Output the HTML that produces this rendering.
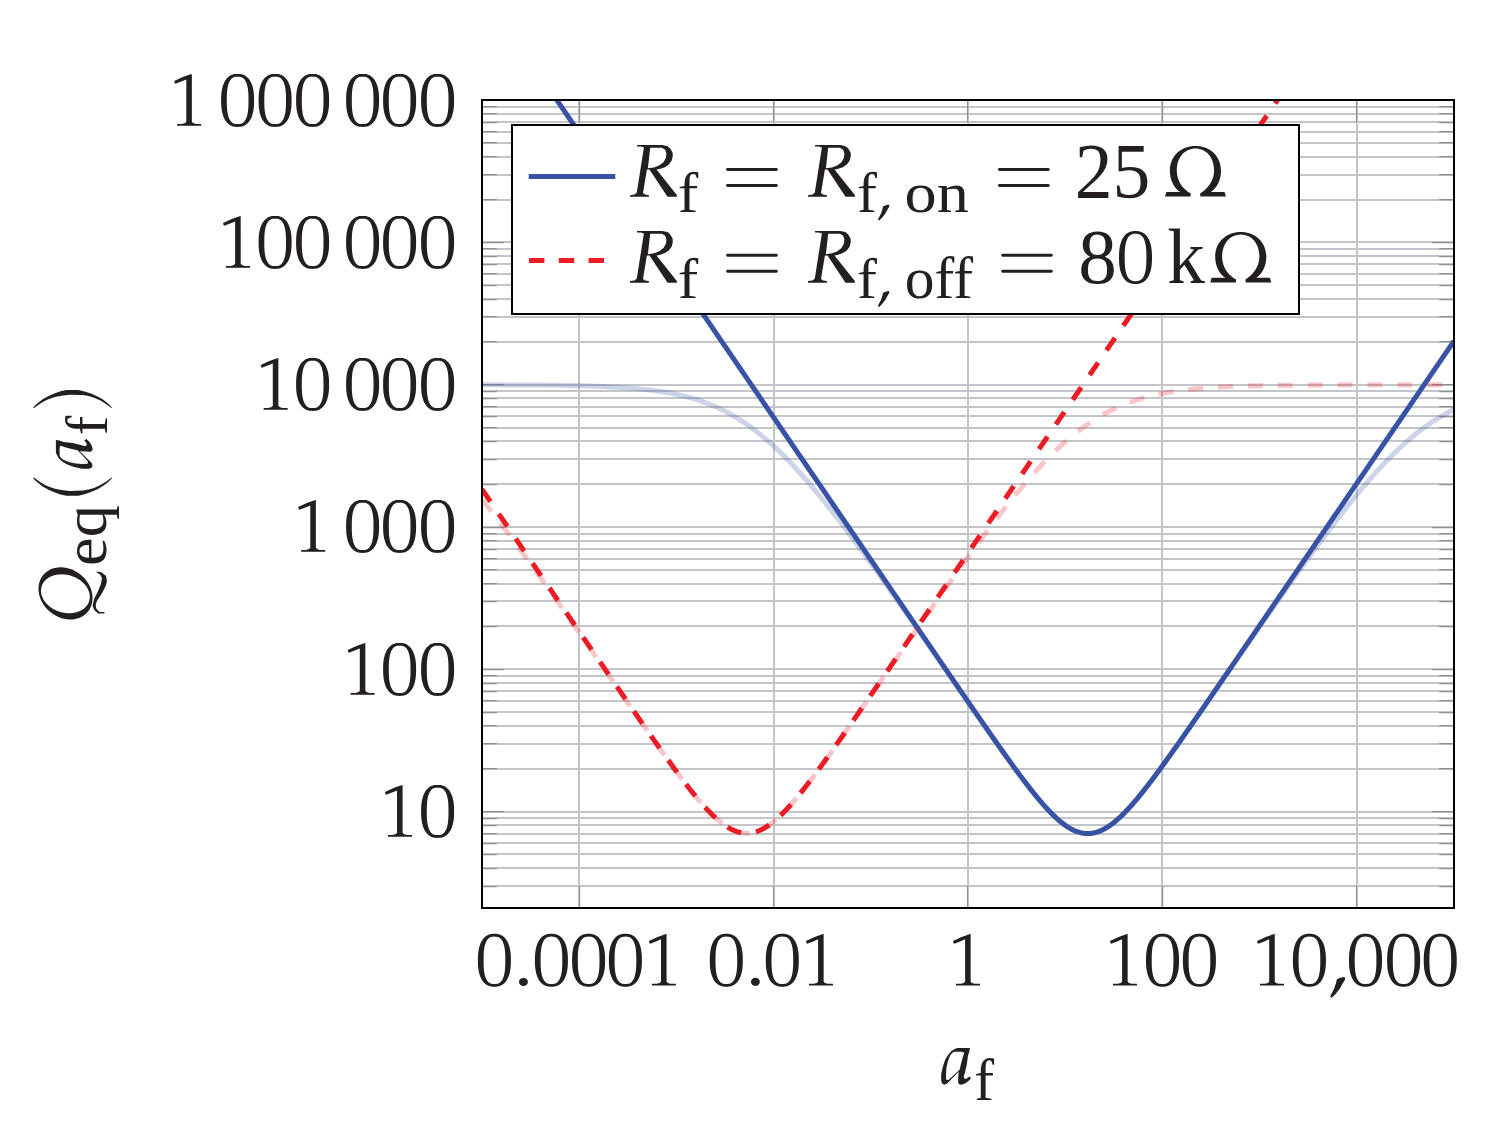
<!DOCTYPE html><html><head><meta charset="utf-8"><style>html,body{margin:0;padding:0;background:#fff;}svg{display:block;}text{font-family:"Liberation Serif",serif;fill:#231f20;}</style></head><body>
<svg width="1500" height="1129" viewBox="0 0 1500 1129">
<rect width="1500" height="1129" fill="#fff"/>
<defs><clipPath id="c"><rect x="482.0" y="100.0" width="972.0" height="808.0"/></clipPath></defs>
<path d="M482.0 886H1454.0M482.0 868H1454.0M482.0 854H1454.0M482.0 843H1454.0M482.0 834H1454.0M482.0 825H1454.0M482.0 818H1454.0M482.0 812H1454.0M482.0 769H1454.0M482.0 744H1454.0M482.0 726H1454.0M482.0 712H1454.0M482.0 701H1454.0M482.0 691H1454.0M482.0 683H1454.0M482.0 676H1454.0M482.0 669H1454.0M482.0 626H1454.0M482.0 601H1454.0M482.0 584H1454.0M482.0 570H1454.0M482.0 559H1454.0M482.0 549H1454.0M482.0 541H1454.0M482.0 534H1454.0M482.0 527H1454.0M482.0 484H1454.0M482.0 459H1454.0M482.0 441H1454.0M482.0 428H1454.0M482.0 416H1454.0M482.0 407H1454.0M482.0 398H1454.0M482.0 391H1454.0M482.0 385H1454.0M482.0 342H1454.0M482.0 317H1454.0M482.0 299H1454.0M482.0 285H1454.0M482.0 274H1454.0M482.0 264H1454.0M482.0 256H1454.0M482.0 249H1454.0M482.0 242H1454.0M482.0 200H1454.0M482.0 175H1454.0M482.0 157H1454.0M482.0 143H1454.0M482.0 132H1454.0M482.0 122H1454.0M482.0 114H1454.0M482.0 107H1454.0M579 100.0V908.0M774 100.0V908.0M968 100.0V908.0M1162 100.0V908.0M1357 100.0V908.0" stroke="#c4c5c8" stroke-width="2.0" fill="none"/>
<path d="M482.0 886.55h14.8M1454.0 886.55h-14.8M482.0 868.55h14.8M1454.0 868.55h-14.8M482.0 854.55h14.8M1454.0 854.55h-14.8M482.0 843.55h14.8M1454.0 843.55h-14.8M482.0 833.55h14.8M1454.0 833.55h-14.8M482.0 825.55h14.8M1454.0 825.55h-14.8M482.0 818.55h14.8M1454.0 818.55h-14.8M482.0 811.55h22.0M1454.0 811.55h-22.0M482.0 768.55h14.8M1454.0 768.55h-14.8M482.0 743.55h14.8M1454.0 743.55h-14.8M482.0 725.55h14.8M1454.0 725.55h-14.8M482.0 712.55h14.8M1454.0 712.55h-14.8M482.0 700.55h14.8M1454.0 700.55h-14.8M482.0 691.55h14.8M1454.0 691.55h-14.8M482.0 683.55h14.8M1454.0 683.55h-14.8M482.0 675.55h14.8M1454.0 675.55h-14.8M482.0 669.55h22.0M1454.0 669.55h-22.0M482.0 626.55h14.8M1454.0 626.55h-14.8M482.0 601.55h14.8M1454.0 601.55h-14.8M482.0 583.55h14.8M1454.0 583.55h-14.8M482.0 569.55h14.8M1454.0 569.55h-14.8M482.0 558.55h14.8M1454.0 558.55h-14.8M482.0 549.55h14.8M1454.0 549.55h-14.8M482.0 540.55h14.8M1454.0 540.55h-14.8M482.0 533.55h14.8M1454.0 533.55h-14.8M482.0 527.55h22.0M1454.0 527.55h-22.0M482.0 484.55h14.8M1454.0 484.55h-14.8M482.0 459.55h14.8M1454.0 459.55h-14.8M482.0 441.55h14.8M1454.0 441.55h-14.8M482.0 427.55h14.8M1454.0 427.55h-14.8M482.0 416.55h14.8M1454.0 416.55h-14.8M482.0 406.55h14.8M1454.0 406.55h-14.8M482.0 398.55h14.8M1454.0 398.55h-14.8M482.0 391.55h14.8M1454.0 391.55h-14.8M482.0 384.55h22.0M1454.0 384.55h-22.0M482.0 341.55h14.8M1454.0 341.55h-14.8M482.0 316.55h14.8M1454.0 316.55h-14.8M482.0 299.55h14.8M1454.0 299.55h-14.8M482.0 285.55h14.8M1454.0 285.55h-14.8M482.0 273.55h14.8M1454.0 273.55h-14.8M482.0 264.55h14.8M1454.0 264.55h-14.8M482.0 256.55h14.8M1454.0 256.55h-14.8M482.0 248.55h14.8M1454.0 248.55h-14.8M482.0 242.55h22.0M1454.0 242.55h-22.0M482.0 199.55h14.8M1454.0 199.55h-14.8M482.0 174.55h14.8M1454.0 174.55h-14.8M482.0 156.55h14.8M1454.0 156.55h-14.8M482.0 142.55h14.8M1454.0 142.55h-14.8M482.0 131.55h14.8M1454.0 131.55h-14.8M482.0 122.55h14.8M1454.0 122.55h-14.8M482.0 113.55h14.8M1454.0 113.55h-14.8M482.0 106.55h14.8M1454.0 106.55h-14.8M579.55 908.0v-22.0M579.55 100.0v22.0M773.55 908.0v-22.0M773.55 100.0v22.0M967.55 908.0v-22.0M967.55 100.0v22.0M1162.55 908.0v-22.0M1162.55 100.0v22.0M1356.55 908.0v-22.0M1356.55 100.0v22.0" stroke="#8e9094" stroke-width="1.2" fill="none"/>
<g clip-path="url(#c)" fill="none" stroke-width="5.0">
<path d="M481.95 -9.59 L482.76 -8.41 L483.57 -7.22 L484.38 -6.03 L485.19 -4.85 L486.00 -3.66 L486.81 -2.48 L487.62 -1.29 L488.43 -0.11 L489.24 1.08 L490.05 2.27 L490.86 3.45 L491.67 4.64 L492.48 5.82 L493.29 7.01 L494.10 8.20 L494.91 9.38 L495.72 10.57 L496.53 11.75 L497.34 12.94 L498.15 14.12 L498.96 15.31 L499.77 16.50 L500.58 17.68 L501.39 18.87 L502.20 20.05 L503.01 21.24 L503.82 22.43 L504.63 23.61 L505.44 24.80 L506.25 25.98 L507.06 27.17 L507.87 28.35 L508.68 29.54 L509.49 30.73 L510.30 31.91 L511.11 33.10 L511.92 34.28 L512.73 35.47 L513.54 36.66 L514.35 37.84 L515.16 39.03 L515.97 40.21 L516.78 41.40 L517.59 42.58 L518.40 43.77 L519.21 44.96 L520.02 46.14 L520.83 47.33 L521.64 48.51 L522.45 49.70 L523.26 50.89 L524.07 52.07 L524.88 53.26 L525.69 54.44 L526.50 55.63 L527.31 56.81 L528.12 58.00 L528.93 59.19 L529.74 60.37 L530.55 61.56 L531.36 62.74 L532.17 63.93 L532.98 65.12 L533.79 66.30 L534.60 67.49 L535.41 68.67 L536.22 69.86 L537.03 71.04 L537.84 72.23 L538.65 73.42 L539.46 74.60 L540.27 75.79 L541.08 76.97 L541.89 78.16 L542.70 79.35 L543.51 80.53 L544.32 81.72 L545.13 82.90 L545.94 84.09 L546.75 85.27 L547.56 86.46 L548.37 87.65 L549.18 88.83 L549.99 90.02 L550.80 91.20 L551.61 92.39 L552.42 93.58 L553.23 94.76 L554.04 95.95 L554.85 97.13 L555.66 98.32 L556.47 99.50 L557.28 100.69 L558.09 101.88 L558.90 103.06 L559.71 104.25 L560.52 105.43 L561.33 106.62 L562.14 107.81 L562.95 108.99 L563.76 110.18 L564.57 111.36 L565.38 112.55 L566.19 113.73 L567.00 114.92 L567.81 116.11 L568.62 117.29 L569.43 118.48 L570.24 119.66 L571.05 120.85 L571.86 122.04 L572.67 123.22 L573.48 124.41 L574.29 125.59 L575.10 126.78 L575.91 127.96 L576.72 129.15 L577.53 130.34 L578.34 131.52 L579.15 132.71 L579.96 133.89 L580.77 135.08 L581.58 136.27 L582.39 137.45 L583.20 138.64 L584.01 139.82 L584.82 141.01 L585.63 142.19 L586.44 143.38 L587.25 144.57 L588.06 145.75 L588.87 146.94 L589.68 148.12 L590.49 149.31 L591.30 150.50 L592.11 151.68 L592.92 152.87 L593.73 154.05 L594.54 155.24 L595.35 156.42 L596.16 157.61 L596.97 158.80 L597.78 159.98 L598.59 161.17 L599.40 162.35 L600.21 163.54 L601.02 164.73 L601.83 165.91 L602.64 167.10 L603.45 168.28 L604.26 169.47 L605.07 170.65 L605.88 171.84 L606.69 173.03 L607.50 174.21 L608.31 175.40 L609.12 176.58 L609.93 177.77 L610.74 178.96 L611.55 180.14 L612.36 181.33 L613.17 182.51 L613.98 183.70 L614.79 184.88 L615.60 186.07 L616.41 187.26 L617.22 188.44 L618.03 189.63 L618.84 190.81 L619.65 192.00 L620.46 193.19 L621.27 194.37 L622.08 195.56 L622.89 196.74 L623.70 197.93 L624.51 199.11 L625.32 200.30 L626.13 201.49 L626.94 202.67 L627.75 203.86 L628.56 205.04 L629.37 206.23 L630.18 207.42 L630.99 208.60 L631.80 209.79 L632.61 210.97 L633.42 212.16 L634.23 213.34 L635.04 214.53 L635.85 215.72 L636.66 216.90 L637.47 218.09 L638.28 219.27 L639.09 220.46 L639.90 221.65 L640.71 222.83 L641.52 224.02 L642.33 225.20 L643.14 226.39 L643.95 227.57 L644.76 228.76 L645.57 229.95 L646.38 231.13 L647.19 232.32 L648.00 233.50 L648.81 234.69 L649.62 235.88 L650.43 237.06 L651.24 238.25 L652.05 239.43 L652.86 240.62 L653.67 241.80 L654.48 242.99 L655.29 244.18 L656.10 245.36 L656.91 246.55 L657.72 247.73 L658.53 248.92 L659.34 250.11 L660.15 251.29 L660.96 252.48 L661.77 253.66 L662.58 254.85 L663.39 256.03 L664.20 257.22 L665.01 258.41 L665.82 259.59 L666.63 260.78 L667.44 261.96 L668.25 263.15 L669.06 264.34 L669.87 265.52 L670.68 266.71 L671.49 267.89 L672.30 269.08 L673.11 270.26 L673.92 271.45 L674.73 272.64 L675.54 273.82 L676.35 275.01 L677.16 276.19 L677.97 277.38 L678.78 278.57 L679.59 279.75 L680.40 280.94 L681.21 282.12 L682.02 283.31 L682.83 284.49 L683.64 285.68 L684.45 286.87 L685.26 288.05 L686.07 289.24 L686.88 290.42 L687.69 291.61 L688.50 292.80 L689.31 293.98 L690.12 295.17 L690.93 296.35 L691.74 297.54 L692.55 298.72 L693.36 299.91 L694.17 301.10 L694.98 302.28 L695.79 303.47 L696.60 304.65 L697.41 305.84 L698.22 307.03 L699.03 308.21 L699.84 309.40 L700.65 310.58 L701.46 311.77 L702.27 312.95 L703.08 314.14 L703.89 315.33 L704.70 316.51 L705.51 317.70 L706.32 318.88 L707.13 320.07 L707.94 321.26 L708.75 322.44 L709.56 323.63 L710.37 324.81 L711.18 326.00 L711.99 327.18 L712.80 328.37 L713.61 329.56 L714.42 330.74 L715.23 331.93 L716.04 333.11 L716.85 334.30 L717.66 335.48 L718.47 336.67 L719.28 337.86 L720.09 339.04 L720.90 340.23 L721.71 341.41 L722.52 342.60 L723.33 343.79 L724.14 344.97 L724.95 346.16 L725.76 347.34 L726.57 348.53 L727.38 349.71 L728.19 350.90 L729.00 352.09 L729.81 353.27 L730.62 354.46 L731.43 355.64 L732.24 356.83 L733.05 358.02 L733.86 359.20 L734.67 360.39 L735.48 361.57 L736.29 362.76 L737.10 363.94 L737.91 365.13 L738.72 366.32 L739.53 367.50 L740.34 368.69 L741.15 369.87 L741.96 371.06 L742.77 372.25 L743.58 373.43 L744.39 374.62 L745.20 375.80 L746.01 376.99 L746.82 378.17 L747.63 379.36 L748.44 380.55 L749.25 381.73 L750.06 382.92 L750.87 384.10 L751.68 385.29 L752.49 386.48 L753.30 387.66 L754.11 388.85 L754.92 390.03 L755.73 391.22 L756.54 392.40 L757.35 393.59 L758.16 394.78 L758.97 395.96 L759.78 397.15 L760.59 398.33 L761.40 399.52 L762.21 400.71 L763.02 401.89 L763.83 403.08 L764.64 404.26 L765.45 405.45 L766.26 406.63 L767.07 407.82 L767.88 409.01 L768.69 410.19 L769.50 411.38 L770.31 412.56 L771.12 413.75 L771.93 414.94 L772.74 416.12 L773.55 417.31 L774.36 418.49 L775.17 419.68 L775.98 420.86 L776.79 422.05 L777.60 423.24 L778.41 424.42 L779.22 425.61 L780.03 426.79 L780.84 427.98 L781.65 429.16 L782.46 430.35 L783.27 431.54 L784.08 432.72 L784.89 433.91 L785.70 435.09 L786.51 436.28 L787.32 437.47 L788.13 438.65 L788.94 439.84 L789.75 441.02 L790.56 442.21 L791.37 443.39 L792.18 444.58 L792.99 445.77 L793.80 446.95 L794.61 448.14 L795.42 449.32 L796.23 450.51 L797.04 451.70 L797.85 452.88 L798.66 454.07 L799.47 455.25 L800.28 456.44 L801.09 457.62 L801.90 458.81 L802.71 460.00 L803.52 461.18 L804.33 462.37 L805.14 463.55 L805.95 464.74 L806.76 465.92 L807.57 467.11 L808.38 468.30 L809.19 469.48 L810.00 470.67 L810.81 471.85 L811.62 473.04 L812.43 474.22 L813.24 475.41 L814.05 476.60 L814.86 477.78 L815.67 478.97 L816.48 480.15 L817.29 481.34 L818.10 482.53 L818.91 483.71 L819.72 484.90 L820.53 486.08 L821.34 487.27 L822.15 488.45 L822.96 489.64 L823.77 490.83 L824.58 492.01 L825.39 493.20 L826.20 494.38 L827.01 495.57 L827.82 496.75 L828.63 497.94 L829.44 499.13 L830.25 500.31 L831.06 501.50 L831.87 502.68 L832.68 503.87 L833.49 505.05 L834.30 506.24 L835.11 507.43 L835.92 508.61 L836.73 509.80 L837.54 510.98 L838.35 512.17 L839.16 513.35 L839.97 514.54 L840.78 515.73 L841.59 516.91 L842.40 518.10 L843.21 519.28 L844.02 520.47 L844.83 521.65 L845.64 522.84 L846.45 524.03 L847.26 525.21 L848.07 526.40 L848.88 527.58 L849.69 528.77 L850.50 529.95 L851.31 531.14 L852.12 532.33 L852.93 533.51 L853.74 534.70 L854.55 535.88 L855.36 537.07 L856.17 538.25 L856.98 539.44 L857.79 540.63 L858.60 541.81 L859.41 543.00 L860.22 544.18 L861.03 545.37 L861.84 546.55 L862.65 547.74 L863.46 548.92 L864.27 550.11 L865.08 551.30 L865.89 552.48 L866.70 553.67 L867.51 554.85 L868.32 556.04 L869.13 557.22 L869.94 558.41 L870.75 559.60 L871.56 560.78 L872.37 561.97 L873.18 563.15 L873.99 564.34 L874.80 565.52 L875.61 566.71 L876.42 567.89 L877.23 569.08 L878.04 570.26 L878.85 571.45 L879.66 572.64 L880.47 573.82 L881.28 575.01 L882.09 576.19 L882.90 577.38 L883.71 578.56 L884.52 579.75 L885.33 580.93 L886.14 582.12 L886.95 583.30 L887.76 584.49 L888.57 585.68 L889.38 586.86 L890.19 588.05 L891.00 589.23 L891.81 590.42 L892.62 591.60 L893.43 592.79 L894.24 593.97 L895.05 595.16 L895.86 596.34 L896.67 597.53 L897.48 598.71 L898.29 599.90 L899.10 601.08 L899.91 602.27 L900.72 603.45 L901.53 604.64 L902.34 605.82 L903.15 607.01 L903.96 608.19 L904.77 609.38 L905.58 610.56 L906.39 611.75 L907.20 612.93 L908.01 614.12 L908.82 615.30 L909.63 616.49 L910.44 617.67 L911.25 618.86 L912.06 620.04 L912.87 621.23 L913.68 622.41 L914.49 623.60 L915.30 624.78 L916.11 625.97 L916.92 627.15 L917.73 628.33 L918.54 629.52 L919.35 630.70 L920.16 631.89 L920.97 633.07 L921.78 634.26 L922.59 635.44 L923.40 636.62 L924.21 637.81 L925.02 638.99 L925.83 640.18 L926.64 641.36 L927.45 642.54 L928.26 643.73 L929.07 644.91 L929.88 646.10 L930.69 647.28 L931.50 648.46 L932.31 649.65 L933.12 650.83 L933.93 652.01 L934.74 653.20 L935.55 654.38 L936.36 655.56 L937.17 656.75 L937.98 657.93 L938.79 659.11 L939.60 660.29 L940.41 661.48 L941.22 662.66 L942.03 663.84 L942.84 665.02 L943.65 666.21 L944.46 667.39 L945.27 668.57 L946.08 669.75 L946.89 670.93 L947.70 672.12 L948.51 673.30 L949.32 674.48 L950.13 675.66 L950.94 676.84 L951.75 678.02 L952.56 679.20 L953.37 680.38 L954.18 681.56 L954.99 682.74 L955.80 683.92 L956.61 685.10 L957.42 686.28 L958.23 687.46 L959.04 688.64 L959.85 689.82 L960.66 691.00 L961.47 692.18 L962.28 693.35 L963.09 694.53 L963.90 695.71 L964.71 696.89 L965.52 698.06 L966.33 699.24 L967.14 700.42 L967.95 701.59 L968.76 702.77 L969.57 703.94 L970.38 705.12 L971.19 706.29 L972.00 707.47 L972.81 708.64 L973.62 709.81 L974.43 710.99 L975.24 712.16 L976.05 713.33 L976.86 714.50 L977.67 715.67 L978.48 716.84 L979.29 718.01 L980.10 719.18 L980.91 720.35 L981.72 721.52 L982.53 722.68 L983.34 723.85 L984.15 725.02 L984.96 726.18 L985.77 727.35 L986.58 728.51 L987.39 729.67 L988.20 730.83 L989.01 732.00 L989.82 733.16 L990.63 734.32 L991.44 735.47 L992.25 736.63 L993.06 737.79 L993.87 738.94 L994.68 740.10 L995.49 741.25 L996.30 742.40 L997.11 743.55 L997.92 744.70 L998.73 745.85 L999.54 747.00 L1000.35 748.14 L1001.16 749.29 L1001.97 750.43 L1002.78 751.57 L1003.59 752.71 L1004.40 753.85 L1005.21 754.98 L1006.02 756.11 L1006.83 757.25 L1007.64 758.38 L1008.45 759.50 L1009.26 760.63 L1010.07 761.75 L1010.88 762.87 L1011.69 763.99 L1012.50 765.11 L1013.31 766.22 L1014.12 767.34 L1014.93 768.44 L1015.74 769.55 L1016.55 770.65 L1017.36 771.75 L1018.17 772.85 L1018.98 773.94 L1019.79 775.03 L1020.60 776.12 L1021.41 777.20 L1022.22 778.28 L1023.03 779.36 L1023.84 780.43 L1024.65 781.50 L1025.46 782.56 L1026.27 783.62 L1027.08 784.67 L1027.89 785.72 L1028.70 786.77 L1029.51 787.81 L1030.32 788.84 L1031.13 789.87 L1031.94 790.90 L1032.75 791.91 L1033.56 792.93 L1034.37 793.93 L1035.18 794.93 L1035.99 795.93 L1036.80 796.91 L1037.61 797.89 L1038.42 798.86 L1039.23 799.83 L1040.04 800.79 L1040.85 801.74 L1041.66 802.68 L1042.47 803.61 L1043.28 804.53 L1044.09 805.45 L1044.90 806.36 L1045.71 807.25 L1046.52 808.14 L1047.33 809.02 L1048.14 809.89 L1048.95 810.74 L1049.76 811.59 L1050.57 812.42 L1051.38 813.25 L1052.19 814.06 L1053.00 814.86 L1053.81 815.65 L1054.62 816.42 L1055.43 817.18 L1056.24 817.93 L1057.05 818.67 L1057.86 819.39 L1058.67 820.09 L1059.48 820.79 L1060.29 821.46 L1061.10 822.13 L1061.91 822.77 L1062.72 823.40 L1063.53 824.02 L1064.34 824.62 L1065.15 825.20 L1065.96 825.76 L1066.77 826.31 L1067.58 826.84 L1068.39 827.35 L1069.20 827.84 L1070.01 828.31 L1070.82 828.77 L1071.63 829.20 L1072.44 829.62 L1073.25 830.01 L1074.06 830.39 L1074.87 830.75 L1075.68 831.08 L1076.49 831.40 L1077.30 831.69 L1078.11 831.96 L1078.92 832.21 L1079.73 832.44 L1080.54 832.65 L1081.35 832.84 L1082.16 833.00 L1082.97 833.14 L1083.78 833.26 L1084.59 833.36 L1085.40 833.44 L1086.21 833.49 L1087.02 833.52 L1087.83 833.53 L1088.64 833.51 L1089.45 833.48 L1090.26 833.42 L1091.07 833.34 L1091.88 833.23 L1092.69 833.11 L1093.50 832.96 L1094.31 832.79 L1095.12 832.60 L1095.93 832.38 L1096.74 832.15 L1097.55 831.89 L1098.36 831.61 L1099.17 831.31 L1099.98 830.99 L1100.79 830.65 L1101.60 830.29 L1102.41 829.91 L1103.22 829.51 L1104.03 829.09 L1104.84 828.65 L1105.65 828.19 L1106.46 827.71 L1107.27 827.21 L1108.08 826.70 L1108.89 826.16 L1109.70 825.61 L1110.51 825.04 L1111.32 824.46 L1112.13 823.85 L1112.94 823.24 L1113.75 822.60 L1114.56 821.95 L1115.37 821.28 L1116.18 820.60 L1116.99 819.91 L1117.80 819.20 L1118.61 818.47 L1119.42 817.73 L1120.23 816.98 L1121.04 816.21 L1121.85 815.44 L1122.66 814.65 L1123.47 813.84 L1124.28 813.03 L1125.09 812.20 L1125.90 811.36 L1126.71 810.51 L1127.52 809.65 L1128.33 808.78 L1129.14 807.90 L1129.95 807.01 L1130.76 806.11 L1131.57 805.21 L1132.38 804.29 L1133.19 803.36 L1134.00 802.42 L1134.81 801.48 L1135.62 800.53 L1136.43 799.57 L1137.24 798.60 L1138.05 797.63 L1138.86 796.65 L1139.67 795.66 L1140.48 794.66 L1141.29 793.66 L1142.10 792.66 L1142.91 791.64 L1143.72 790.62 L1144.53 789.60 L1145.34 788.57 L1146.15 787.53 L1146.96 786.49 L1147.77 785.44 L1148.58 784.39 L1149.39 783.34 L1150.20 782.28 L1151.01 781.21 L1151.82 780.14 L1152.63 779.07 L1153.44 777.99 L1154.25 776.91 L1155.06 775.83 L1155.87 774.74 L1156.68 773.65 L1157.49 772.56 L1158.30 771.46 L1159.11 770.36 L1159.92 769.25 L1160.73 768.15 L1161.54 767.04 L1162.35 765.93 L1163.16 764.81 L1163.97 763.69 L1164.78 762.57 L1165.59 761.45 L1166.40 760.33 L1167.21 759.20 L1168.02 758.07 L1168.83 756.94 L1169.64 755.81 L1170.45 754.68 L1171.26 753.54 L1172.07 752.40 L1172.88 751.26 L1173.69 750.12 L1174.50 748.98 L1175.31 747.83 L1176.12 746.69 L1176.93 745.54 L1177.74 744.39 L1178.55 743.24 L1179.36 742.09 L1180.17 740.94 L1180.98 739.79 L1181.79 738.63 L1182.60 737.48 L1183.41 736.32 L1184.22 735.16 L1185.03 734.00 L1185.84 732.84 L1186.65 731.68 L1187.46 730.52 L1188.27 729.36 L1189.08 728.20 L1189.89 727.03 L1190.70 725.87 L1191.51 724.70 L1192.32 723.54 L1193.13 722.37 L1193.94 721.20 L1194.75 720.04 L1195.56 718.87 L1196.37 717.70 L1197.18 716.53 L1197.99 715.36 L1198.80 714.19 L1199.61 713.01 L1200.42 711.84 L1201.23 710.67 L1202.04 709.50 L1202.85 708.32 L1203.66 707.15 L1204.47 705.98 L1205.28 704.80 L1206.09 703.63 L1206.90 702.45 L1207.71 701.28 L1208.52 700.10 L1209.33 698.92 L1210.14 697.75 L1210.95 696.57 L1211.76 695.39 L1212.57 694.21 L1213.38 693.04 L1214.19 691.86 L1215.00 690.68 L1215.81 689.50 L1216.62 688.32 L1217.43 687.14 L1218.24 685.96 L1219.05 684.79 L1219.86 683.61 L1220.67 682.43 L1221.48 681.25 L1222.29 680.07 L1223.10 678.88 L1223.91 677.70 L1224.72 676.52 L1225.53 675.34 L1226.34 674.16 L1227.15 672.98 L1227.96 671.80 L1228.77 670.62 L1229.58 669.44 L1230.39 668.25 L1231.20 667.07 L1232.01 665.89 L1232.82 664.71 L1233.63 663.52 L1234.44 662.34 L1235.25 661.16 L1236.06 659.98 L1236.87 658.79 L1237.68 657.61 L1238.49 656.43 L1239.30 655.25 L1240.11 654.06 L1240.92 652.88 L1241.73 651.70 L1242.54 650.51 L1243.35 649.33 L1244.16 648.15 L1244.97 646.96 L1245.78 645.78 L1246.59 644.59 L1247.40 643.41 L1248.21 642.23 L1249.02 641.04 L1249.83 639.86 L1250.64 638.67 L1251.45 637.49 L1252.26 636.31 L1253.07 635.12 L1253.88 633.94 L1254.69 632.75 L1255.50 631.57 L1256.31 630.39 L1257.12 629.20 L1257.93 628.02 L1258.74 626.83 L1259.55 625.65 L1260.36 624.46 L1261.17 623.28 L1261.98 622.09 L1262.79 620.91 L1263.60 619.72 L1264.41 618.54 L1265.22 617.35 L1266.03 616.17 L1266.84 614.98 L1267.65 613.80 L1268.46 612.62 L1269.27 611.43 L1270.08 610.25 L1270.89 609.06 L1271.70 607.88 L1272.51 606.69 L1273.32 605.51 L1274.13 604.32 L1274.94 603.14 L1275.75 601.95 L1276.56 600.76 L1277.37 599.58 L1278.18 598.39 L1278.99 597.21 L1279.80 596.02 L1280.61 594.84 L1281.42 593.65 L1282.23 592.47 L1283.04 591.28 L1283.85 590.10 L1284.66 588.91 L1285.47 587.73 L1286.28 586.54 L1287.09 585.36 L1287.90 584.17 L1288.71 582.99 L1289.52 581.80 L1290.33 580.62 L1291.14 579.43 L1291.95 578.24 L1292.76 577.06 L1293.57 575.87 L1294.38 574.69 L1295.19 573.50 L1296.00 572.32 L1296.81 571.13 L1297.62 569.95 L1298.43 568.76 L1299.24 567.58 L1300.05 566.39 L1300.86 565.20 L1301.67 564.02 L1302.48 562.83 L1303.29 561.65 L1304.10 560.46 L1304.91 559.28 L1305.72 558.09 L1306.53 556.91 L1307.34 555.72 L1308.15 554.53 L1308.96 553.35 L1309.77 552.16 L1310.58 550.98 L1311.39 549.79 L1312.20 548.61 L1313.01 547.42 L1313.82 546.24 L1314.63 545.05 L1315.44 543.86 L1316.25 542.68 L1317.06 541.49 L1317.87 540.31 L1318.68 539.12 L1319.49 537.94 L1320.30 536.75 L1321.11 535.56 L1321.92 534.38 L1322.73 533.19 L1323.54 532.01 L1324.35 530.82 L1325.16 529.64 L1325.97 528.45 L1326.78 527.26 L1327.59 526.08 L1328.40 524.89 L1329.21 523.71 L1330.02 522.52 L1330.83 521.34 L1331.64 520.15 L1332.45 518.96 L1333.26 517.78 L1334.07 516.59 L1334.88 515.41 L1335.69 514.22 L1336.50 513.04 L1337.31 511.85 L1338.12 510.66 L1338.93 509.48 L1339.74 508.29 L1340.55 507.11 L1341.36 505.92 L1342.17 504.74 L1342.98 503.55 L1343.79 502.36 L1344.60 501.18 L1345.41 499.99 L1346.22 498.81 L1347.03 497.62 L1347.84 496.44 L1348.65 495.25 L1349.46 494.06 L1350.27 492.88 L1351.08 491.69 L1351.89 490.51 L1352.70 489.32 L1353.51 488.14 L1354.32 486.95 L1355.13 485.76 L1355.94 484.58 L1356.75 483.39 L1357.56 482.21 L1358.37 481.02 L1359.18 479.84 L1359.99 478.65 L1360.80 477.46 L1361.61 476.28 L1362.42 475.09 L1363.23 473.91 L1364.04 472.72 L1364.85 471.53 L1365.66 470.35 L1366.47 469.16 L1367.28 467.98 L1368.09 466.79 L1368.90 465.61 L1369.71 464.42 L1370.52 463.23 L1371.33 462.05 L1372.14 460.86 L1372.95 459.68 L1373.76 458.49 L1374.57 457.31 L1375.38 456.12 L1376.19 454.93 L1377.00 453.75 L1377.81 452.56 L1378.62 451.38 L1379.43 450.19 L1380.24 449.00 L1381.05 447.82 L1381.86 446.63 L1382.67 445.45 L1383.48 444.26 L1384.29 443.08 L1385.10 441.89 L1385.91 440.70 L1386.72 439.52 L1387.53 438.33 L1388.34 437.15 L1389.15 435.96 L1389.96 434.78 L1390.77 433.59 L1391.58 432.40 L1392.39 431.22 L1393.20 430.03 L1394.01 428.85 L1394.82 427.66 L1395.63 426.47 L1396.44 425.29 L1397.25 424.10 L1398.06 422.92 L1398.87 421.73 L1399.68 420.55 L1400.49 419.36 L1401.30 418.17 L1402.11 416.99 L1402.92 415.80 L1403.73 414.62 L1404.54 413.43 L1405.35 412.24 L1406.16 411.06 L1406.97 409.87 L1407.78 408.69 L1408.59 407.50 L1409.40 406.32 L1410.21 405.13 L1411.02 403.94 L1411.83 402.76 L1412.64 401.57 L1413.45 400.39 L1414.26 399.20 L1415.07 398.01 L1415.88 396.83 L1416.69 395.64 L1417.50 394.46 L1418.31 393.27 L1419.12 392.09 L1419.93 390.90 L1420.74 389.71 L1421.55 388.53 L1422.36 387.34 L1423.17 386.16 L1423.98 384.97 L1424.79 383.79 L1425.60 382.60 L1426.41 381.41 L1427.22 380.23 L1428.03 379.04 L1428.84 377.86 L1429.65 376.67 L1430.46 375.48 L1431.27 374.30 L1432.08 373.11 L1432.89 371.93 L1433.70 370.74 L1434.51 369.56 L1435.32 368.37 L1436.13 367.18 L1436.94 366.00 L1437.75 364.81 L1438.56 363.63 L1439.37 362.44 L1440.18 361.25 L1440.99 360.07 L1441.80 358.88 L1442.61 357.70 L1443.42 356.51 L1444.23 355.33 L1445.04 354.14 L1445.85 352.95 L1446.66 351.77 L1447.47 350.58 L1448.28 349.40 L1449.09 348.21 L1449.90 347.02 L1450.71 345.84 L1451.52 344.65 L1452.33 343.47 L1453.14 342.28 L1453.95 341.10" stroke="#3853a5"/>
<path d="M481.95 489.21 L482.76 490.40 L483.57 491.58 L484.38 492.77 L485.19 493.96 L486.00 495.14 L486.81 496.33 L487.62 497.51 L488.43 498.70 L489.24 499.88 L490.05 501.07 L490.86 502.26 L491.67 503.44 L492.48 504.63 L493.29 505.81 L494.10 507.00 L494.91 508.18 L495.72 509.37 L496.53 510.56 L497.34 511.74 L498.15 512.93 L498.96 514.11 L499.77 515.30 L500.58 516.48 L501.39 517.67 L502.20 518.86 L503.01 520.04 L503.82 521.23 L504.63 522.41 L505.44 523.60 L506.25 524.78 L507.06 525.97 L507.87 527.16 L508.68 528.34 L509.49 529.53 L510.30 530.71 L511.11 531.90 L511.92 533.08 L512.73 534.27 L513.54 535.46 L514.35 536.64 L515.16 537.83 L515.97 539.01 L516.78 540.20 L517.59 541.38 L518.40 542.57 L519.21 543.75 L520.02 544.94 L520.83 546.13 L521.64 547.31 L522.45 548.50 L523.26 549.68 L524.07 550.87 L524.88 552.05 L525.69 553.24 L526.50 554.43 L527.31 555.61 L528.12 556.80 L528.93 557.98 L529.74 559.17 L530.55 560.35 L531.36 561.54 L532.17 562.72 L532.98 563.91 L533.79 565.10 L534.60 566.28 L535.41 567.47 L536.22 568.65 L537.03 569.84 L537.84 571.02 L538.65 572.21 L539.46 573.39 L540.27 574.58 L541.08 575.76 L541.89 576.95 L542.70 578.14 L543.51 579.32 L544.32 580.51 L545.13 581.69 L545.94 582.88 L546.75 584.06 L547.56 585.25 L548.37 586.43 L549.18 587.62 L549.99 588.80 L550.80 589.99 L551.61 591.17 L552.42 592.36 L553.23 593.54 L554.04 594.73 L554.85 595.91 L555.66 597.10 L556.47 598.29 L557.28 599.47 L558.09 600.66 L558.90 601.84 L559.71 603.03 L560.52 604.21 L561.33 605.40 L562.14 606.58 L562.95 607.77 L563.76 608.95 L564.57 610.14 L565.38 611.32 L566.19 612.51 L567.00 613.69 L567.81 614.88 L568.62 616.06 L569.43 617.25 L570.24 618.43 L571.05 619.61 L571.86 620.80 L572.67 621.98 L573.48 623.17 L574.29 624.35 L575.10 625.54 L575.91 626.72 L576.72 627.91 L577.53 629.09 L578.34 630.28 L579.15 631.46 L579.96 632.64 L580.77 633.83 L581.58 635.01 L582.39 636.20 L583.20 637.38 L584.01 638.57 L584.82 639.75 L585.63 640.93 L586.44 642.12 L587.25 643.30 L588.06 644.49 L588.87 645.67 L589.68 646.85 L590.49 648.04 L591.30 649.22 L592.11 650.40 L592.92 651.59 L593.73 652.77 L594.54 653.95 L595.35 655.14 L596.16 656.32 L596.97 657.50 L597.78 658.68 L598.59 659.87 L599.40 661.05 L600.21 662.23 L601.02 663.42 L601.83 664.60 L602.64 665.78 L603.45 666.96 L604.26 668.14 L605.07 669.33 L605.88 670.51 L606.69 671.69 L607.50 672.87 L608.31 674.05 L609.12 675.23 L609.93 676.41 L610.74 677.59 L611.55 678.78 L612.36 679.96 L613.17 681.14 L613.98 682.32 L614.79 683.50 L615.60 684.68 L616.41 685.86 L617.22 687.03 L618.03 688.21 L618.84 689.39 L619.65 690.57 L620.46 691.75 L621.27 692.93 L622.08 694.10 L622.89 695.28 L623.70 696.46 L624.51 697.64 L625.32 698.81 L626.13 699.99 L626.94 701.17 L627.75 702.34 L628.56 703.52 L629.37 704.69 L630.18 705.87 L630.99 707.04 L631.80 708.21 L632.61 709.39 L633.42 710.56 L634.23 711.73 L635.04 712.90 L635.85 714.07 L636.66 715.25 L637.47 716.42 L638.28 717.59 L639.09 718.75 L639.90 719.92 L640.71 721.09 L641.52 722.26 L642.33 723.43 L643.14 724.59 L643.95 725.76 L644.76 726.92 L645.57 728.09 L646.38 729.25 L647.19 730.41 L648.00 731.57 L648.81 732.73 L649.62 733.89 L650.43 735.05 L651.24 736.21 L652.05 737.36 L652.86 738.52 L653.67 739.67 L654.48 740.83 L655.29 741.98 L656.10 743.13 L656.91 744.28 L657.72 745.43 L658.53 746.57 L659.34 747.72 L660.15 748.86 L660.96 750.01 L661.77 751.15 L662.58 752.29 L663.39 753.42 L664.20 754.56 L665.01 755.69 L665.82 756.83 L666.63 757.96 L667.44 759.08 L668.25 760.21 L669.06 761.33 L669.87 762.45 L670.68 763.57 L671.49 764.69 L672.30 765.80 L673.11 766.92 L673.92 768.03 L674.73 769.13 L675.54 770.23 L676.35 771.33 L677.16 772.43 L677.97 773.53 L678.78 774.62 L679.59 775.70 L680.40 776.79 L681.21 777.87 L682.02 778.94 L682.83 780.01 L683.64 781.08 L684.45 782.15 L685.26 783.21 L686.07 784.26 L686.88 785.31 L687.69 786.36 L688.50 787.40 L689.31 788.43 L690.12 789.46 L690.93 790.49 L691.74 791.50 L692.55 792.52 L693.36 793.52 L694.17 794.52 L694.98 795.52 L695.79 796.51 L696.60 797.49 L697.41 798.46 L698.22 799.42 L699.03 800.38 L699.84 801.33 L700.65 802.27 L701.46 803.21 L702.27 804.13 L703.08 805.05 L703.89 805.96 L704.70 806.86 L705.51 807.74 L706.32 808.62 L707.13 809.49 L707.94 810.35 L708.75 811.20 L709.56 812.03 L710.37 812.86 L711.18 813.67 L711.99 814.47 L712.80 815.26 L713.61 816.04 L714.42 816.80 L715.23 817.55 L716.04 818.28 L716.85 819.01 L717.66 819.71 L718.47 820.41 L719.28 821.09 L720.09 821.75 L720.90 822.40 L721.71 823.03 L722.52 823.65 L723.33 824.25 L724.14 824.83 L724.95 825.40 L725.76 825.94 L726.57 826.47 L727.38 826.99 L728.19 827.48 L729.00 827.96 L729.81 828.41 L730.62 828.85 L731.43 829.27 L732.24 829.66 L733.05 830.04 L733.86 830.40 L734.67 830.74 L735.48 831.05 L736.29 831.35 L737.10 831.62 L737.91 831.88 L738.72 832.11 L739.53 832.32 L740.34 832.51 L741.15 832.67 L741.96 832.82 L742.77 832.94 L743.58 833.04 L744.39 833.11 L745.20 833.17 L746.01 833.20 L746.82 833.21 L747.63 833.20 L748.44 833.17 L749.25 833.11 L750.06 833.03 L750.87 832.93 L751.68 832.80 L752.49 832.66 L753.30 832.49 L754.11 832.30 L754.92 832.09 L755.73 831.85 L756.54 831.60 L757.35 831.32 L758.16 831.03 L758.97 830.71 L759.78 830.37 L760.59 830.01 L761.40 829.63 L762.21 829.23 L763.02 828.81 L763.83 828.37 L764.64 827.92 L765.45 827.44 L766.26 826.94 L767.07 826.43 L767.88 825.90 L768.69 825.35 L769.50 824.78 L770.31 824.20 L771.12 823.60 L771.93 822.98 L772.74 822.34 L773.55 821.69 L774.36 821.03 L775.17 820.35 L775.98 819.65 L776.79 818.95 L777.60 818.22 L778.41 817.48 L779.22 816.73 L780.03 815.97 L780.84 815.19 L781.65 814.40 L782.46 813.60 L783.27 812.79 L784.08 811.96 L784.89 811.12 L785.70 810.28 L786.51 809.42 L787.32 808.55 L788.13 807.67 L788.94 806.78 L789.75 805.88 L790.56 804.97 L791.37 804.05 L792.18 803.13 L792.99 802.19 L793.80 801.25 L794.61 800.30 L795.42 799.34 L796.23 798.38 L797.04 797.40 L797.85 796.42 L798.66 795.43 L799.47 794.44 L800.28 793.44 L801.09 792.43 L801.90 791.42 L802.71 790.40 L803.52 789.37 L804.33 788.34 L805.14 787.31 L805.95 786.27 L806.76 785.22 L807.57 784.17 L808.38 783.12 L809.19 782.06 L810.00 780.99 L810.81 779.92 L811.62 778.85 L812.43 777.77 L813.24 776.69 L814.05 775.61 L814.86 774.52 L815.67 773.43 L816.48 772.34 L817.29 771.24 L818.10 770.14 L818.91 769.04 L819.72 767.93 L820.53 766.82 L821.34 765.71 L822.15 764.59 L822.96 763.48 L823.77 762.36 L824.58 761.24 L825.39 760.11 L826.20 758.99 L827.01 757.86 L827.82 756.73 L828.63 755.60 L829.44 754.46 L830.25 753.33 L831.06 752.19 L831.87 751.05 L832.68 749.91 L833.49 748.77 L834.30 747.62 L835.11 746.48 L835.92 745.33 L836.73 744.18 L837.54 743.03 L838.35 741.88 L839.16 740.73 L839.97 739.57 L840.78 738.42 L841.59 737.26 L842.40 736.11 L843.21 734.95 L844.02 733.79 L844.83 732.63 L845.64 731.47 L846.45 730.31 L847.26 729.15 L848.07 727.99 L848.88 726.82 L849.69 725.66 L850.50 724.49 L851.31 723.33 L852.12 722.16 L852.93 720.99 L853.74 719.82 L854.55 718.65 L855.36 717.49 L856.17 716.32 L856.98 715.15 L857.79 713.97 L858.60 712.80 L859.41 711.63 L860.22 710.46 L861.03 709.29 L861.84 708.11 L862.65 706.94 L863.46 705.76 L864.27 704.59 L865.08 703.42 L865.89 702.24 L866.70 701.06 L867.51 699.89 L868.32 698.71 L869.13 697.54 L869.94 696.36 L870.75 695.18 L871.56 694.00 L872.37 692.83 L873.18 691.65 L873.99 690.47 L874.80 689.29 L875.61 688.11 L876.42 686.93 L877.23 685.75 L878.04 684.57 L878.85 683.39 L879.66 682.21 L880.47 681.03 L881.28 679.85 L882.09 678.67 L882.90 677.49 L883.71 676.31 L884.52 675.13 L885.33 673.95 L886.14 672.77 L886.95 671.59 L887.76 670.41 L888.57 669.22 L889.38 668.04 L890.19 666.86 L891.00 665.68 L891.81 664.50 L892.62 663.31 L893.43 662.13 L894.24 660.95 L895.05 659.77 L895.86 658.58 L896.67 657.40 L897.48 656.22 L898.29 655.03 L899.10 653.85 L899.91 652.67 L900.72 651.48 L901.53 650.30 L902.34 649.12 L903.15 647.93 L903.96 646.75 L904.77 645.57 L905.58 644.38 L906.39 643.20 L907.20 642.02 L908.01 640.83 L908.82 639.65 L909.63 638.46 L910.44 637.28 L911.25 636.10 L912.06 634.91 L912.87 633.73 L913.68 632.54 L914.49 631.36 L915.30 630.17 L916.11 628.99 L916.92 627.81 L917.73 626.62 L918.54 625.44 L919.35 624.25 L920.16 623.07 L920.97 621.88 L921.78 620.70 L922.59 619.51 L923.40 618.33 L924.21 617.14 L925.02 615.96 L925.83 614.77 L926.64 613.59 L927.45 612.40 L928.26 611.22 L929.07 610.03 L929.88 608.85 L930.69 607.66 L931.50 606.48 L932.31 605.29 L933.12 604.11 L933.93 602.92 L934.74 601.74 L935.55 600.55 L936.36 599.37 L937.17 598.18 L937.98 597.00 L938.79 595.81 L939.60 594.63 L940.41 593.44 L941.22 592.26 L942.03 591.07 L942.84 589.89 L943.65 588.70 L944.46 587.52 L945.27 586.33 L946.08 585.15 L946.89 583.96 L947.70 582.77 L948.51 581.59 L949.32 580.40 L950.13 579.22 L950.94 578.03 L951.75 576.85 L952.56 575.66 L953.37 574.48 L954.18 573.29 L954.99 572.11 L955.80 570.92 L956.61 569.74 L957.42 568.55 L958.23 567.36 L959.04 566.18 L959.85 564.99 L960.66 563.81 L961.47 562.62 L962.28 561.44 L963.09 560.25 L963.90 559.07 L964.71 557.88 L965.52 556.69 L966.33 555.51 L967.14 554.32 L967.95 553.14 L968.76 551.95 L969.57 550.77 L970.38 549.58 L971.19 548.40 L972.00 547.21 L972.81 546.02 L973.62 544.84 L974.43 543.65 L975.24 542.47 L976.05 541.28 L976.86 540.10 L977.67 538.91 L978.48 537.72 L979.29 536.54 L980.10 535.35 L980.91 534.17 L981.72 532.98 L982.53 531.80 L983.34 530.61 L984.15 529.42 L984.96 528.24 L985.77 527.05 L986.58 525.87 L987.39 524.68 L988.20 523.50 L989.01 522.31 L989.82 521.13 L990.63 519.94 L991.44 518.75 L992.25 517.57 L993.06 516.38 L993.87 515.20 L994.68 514.01 L995.49 512.83 L996.30 511.64 L997.11 510.45 L997.92 509.27 L998.73 508.08 L999.54 506.90 L1000.35 505.71 L1001.16 504.53 L1001.97 503.34 L1002.78 502.15 L1003.59 500.97 L1004.40 499.78 L1005.21 498.60 L1006.02 497.41 L1006.83 496.22 L1007.64 495.04 L1008.45 493.85 L1009.26 492.67 L1010.07 491.48 L1010.88 490.30 L1011.69 489.11 L1012.50 487.92 L1013.31 486.74 L1014.12 485.55 L1014.93 484.37 L1015.74 483.18 L1016.55 482.00 L1017.36 480.81 L1018.17 479.62 L1018.98 478.44 L1019.79 477.25 L1020.60 476.07 L1021.41 474.88 L1022.22 473.70 L1023.03 472.51 L1023.84 471.32 L1024.65 470.14 L1025.46 468.95 L1026.27 467.77 L1027.08 466.58 L1027.89 465.39 L1028.70 464.21 L1029.51 463.02 L1030.32 461.84 L1031.13 460.65 L1031.94 459.47 L1032.75 458.28 L1033.56 457.09 L1034.37 455.91 L1035.18 454.72 L1035.99 453.54 L1036.80 452.35 L1037.61 451.17 L1038.42 449.98 L1039.23 448.79 L1040.04 447.61 L1040.85 446.42 L1041.66 445.24 L1042.47 444.05 L1043.28 442.86 L1044.09 441.68 L1044.90 440.49 L1045.71 439.31 L1046.52 438.12 L1047.33 436.94 L1048.14 435.75 L1048.95 434.56 L1049.76 433.38 L1050.57 432.19 L1051.38 431.01 L1052.19 429.82 L1053.00 428.64 L1053.81 427.45 L1054.62 426.26 L1055.43 425.08 L1056.24 423.89 L1057.05 422.71 L1057.86 421.52 L1058.67 420.33 L1059.48 419.15 L1060.29 417.96 L1061.10 416.78 L1061.91 415.59 L1062.72 414.41 L1063.53 413.22 L1064.34 412.03 L1065.15 410.85 L1065.96 409.66 L1066.77 408.48 L1067.58 407.29 L1068.39 406.10 L1069.20 404.92 L1070.01 403.73 L1070.82 402.55 L1071.63 401.36 L1072.44 400.18 L1073.25 398.99 L1074.06 397.80 L1074.87 396.62 L1075.68 395.43 L1076.49 394.25 L1077.30 393.06 L1078.11 391.87 L1078.92 390.69 L1079.73 389.50 L1080.54 388.32 L1081.35 387.13 L1082.16 385.95 L1082.97 384.76 L1083.78 383.57 L1084.59 382.39 L1085.40 381.20 L1086.21 380.02 L1087.02 378.83 L1087.83 377.64 L1088.64 376.46 L1089.45 375.27 L1090.26 374.09 L1091.07 372.90 L1091.88 371.72 L1092.69 370.53 L1093.50 369.34 L1094.31 368.16 L1095.12 366.97 L1095.93 365.79 L1096.74 364.60 L1097.55 363.42 L1098.36 362.23 L1099.17 361.04 L1099.98 359.86 L1100.79 358.67 L1101.60 357.49 L1102.41 356.30 L1103.22 355.11 L1104.03 353.93 L1104.84 352.74 L1105.65 351.56 L1106.46 350.37 L1107.27 349.19 L1108.08 348.00 L1108.89 346.81 L1109.70 345.63 L1110.51 344.44 L1111.32 343.26 L1112.13 342.07 L1112.94 340.88 L1113.75 339.70 L1114.56 338.51 L1115.37 337.33 L1116.18 336.14 L1116.99 334.96 L1117.80 333.77 L1118.61 332.58 L1119.42 331.40 L1120.23 330.21 L1121.04 329.03 L1121.85 327.84 L1122.66 326.65 L1123.47 325.47 L1124.28 324.28 L1125.09 323.10 L1125.90 321.91 L1126.71 320.73 L1127.52 319.54 L1128.33 318.35 L1129.14 317.17 L1129.95 315.98 L1130.76 314.80 L1131.57 313.61 L1132.38 312.42 L1133.19 311.24 L1134.00 310.05 L1134.81 308.87 L1135.62 307.68 L1136.43 306.50 L1137.24 305.31 L1138.05 304.12 L1138.86 302.94 L1139.67 301.75 L1140.48 300.57 L1141.29 299.38 L1142.10 298.19 L1142.91 297.01 L1143.72 295.82 L1144.53 294.64 L1145.34 293.45 L1146.15 292.27 L1146.96 291.08 L1147.77 289.89 L1148.58 288.71 L1149.39 287.52 L1150.20 286.34 L1151.01 285.15 L1151.82 283.96 L1152.63 282.78 L1153.44 281.59 L1154.25 280.41 L1155.06 279.22 L1155.87 278.04 L1156.68 276.85 L1157.49 275.66 L1158.30 274.48 L1159.11 273.29 L1159.92 272.11 L1160.73 270.92 L1161.54 269.73 L1162.35 268.55 L1163.16 267.36 L1163.97 266.18 L1164.78 264.99 L1165.59 263.81 L1166.40 262.62 L1167.21 261.43 L1168.02 260.25 L1168.83 259.06 L1169.64 257.88 L1170.45 256.69 L1171.26 255.50 L1172.07 254.32 L1172.88 253.13 L1173.69 251.95 L1174.50 250.76 L1175.31 249.58 L1176.12 248.39 L1176.93 247.20 L1177.74 246.02 L1178.55 244.83 L1179.36 243.65 L1180.17 242.46 L1180.98 241.27 L1181.79 240.09 L1182.60 238.90 L1183.41 237.72 L1184.22 236.53 L1185.03 235.35 L1185.84 234.16 L1186.65 232.97 L1187.46 231.79 L1188.27 230.60 L1189.08 229.42 L1189.89 228.23 L1190.70 227.04 L1191.51 225.86 L1192.32 224.67 L1193.13 223.49 L1193.94 222.30 L1194.75 221.12 L1195.56 219.93 L1196.37 218.74 L1197.18 217.56 L1197.99 216.37 L1198.80 215.19 L1199.61 214.00 L1200.42 212.81 L1201.23 211.63 L1202.04 210.44 L1202.85 209.26 L1203.66 208.07 L1204.47 206.89 L1205.28 205.70 L1206.09 204.51 L1206.90 203.33 L1207.71 202.14 L1208.52 200.96 L1209.33 199.77 L1210.14 198.58 L1210.95 197.40 L1211.76 196.21 L1212.57 195.03 L1213.38 193.84 L1214.19 192.66 L1215.00 191.47 L1215.81 190.28 L1216.62 189.10 L1217.43 187.91 L1218.24 186.73 L1219.05 185.54 L1219.86 184.35 L1220.67 183.17 L1221.48 181.98 L1222.29 180.80 L1223.10 179.61 L1223.91 178.43 L1224.72 177.24 L1225.53 176.05 L1226.34 174.87 L1227.15 173.68 L1227.96 172.50 L1228.77 171.31 L1229.58 170.12 L1230.39 168.94 L1231.20 167.75 L1232.01 166.57 L1232.82 165.38 L1233.63 164.20 L1234.44 163.01 L1235.25 161.82 L1236.06 160.64 L1236.87 159.45 L1237.68 158.27 L1238.49 157.08 L1239.30 155.89 L1240.11 154.71 L1240.92 153.52 L1241.73 152.34 L1242.54 151.15 L1243.35 149.97 L1244.16 148.78 L1244.97 147.59 L1245.78 146.41 L1246.59 145.22 L1247.40 144.04 L1248.21 142.85 L1249.02 141.66 L1249.83 140.48 L1250.64 139.29 L1251.45 138.11 L1252.26 136.92 L1253.07 135.74 L1253.88 134.55 L1254.69 133.36 L1255.50 132.18 L1256.31 130.99 L1257.12 129.81 L1257.93 128.62 L1258.74 127.43 L1259.55 126.25 L1260.36 125.06 L1261.17 123.88 L1261.98 122.69 L1262.79 121.51 L1263.60 120.32 L1264.41 119.13 L1265.22 117.95 L1266.03 116.76 L1266.84 115.58 L1267.65 114.39 L1268.46 113.20 L1269.27 112.02 L1270.08 110.83 L1270.89 109.65 L1271.70 108.46 L1272.51 107.28 L1273.32 106.09 L1274.13 104.90 L1274.94 103.72 L1275.75 102.53 L1276.56 101.35 L1277.37 100.16 L1278.18 98.97 L1278.99 97.79 L1279.80 96.60 L1280.61 95.42 L1281.42 94.23 L1282.23 93.05 L1283.04 91.86 L1283.85 90.67 L1284.66 89.49 L1285.47 88.30 L1286.28 87.12 L1287.09 85.93 L1287.90 84.74 L1288.71 83.56 L1289.52 82.37 L1290.33 81.19 L1291.14 80.00 L1291.95 78.82 L1292.76 77.63 L1293.57 76.44 L1294.38 75.26 L1295.19 74.07 L1296.00 72.89 L1296.81 71.70 L1297.62 70.51 L1298.43 69.33 L1299.24 68.14 L1300.05 66.96 L1300.86 65.77 L1301.67 64.59 L1302.48 63.40 L1303.29 62.21 L1304.10 61.03 L1304.91 59.84 L1305.72 58.66 L1306.53 57.47 L1307.34 56.28 L1308.15 55.10 L1308.96 53.91 L1309.77 52.73 L1310.58 51.54 L1311.39 50.36 L1312.20 49.17 L1313.01 47.98 L1313.82 46.80 L1314.63 45.61 L1315.44 44.43 L1316.25 43.24 L1317.06 42.05 L1317.87 40.87 L1318.68 39.68 L1319.49 38.50 L1320.30 37.31 L1321.11 36.13 L1321.92 34.94 L1322.73 33.75 L1323.54 32.57 L1324.35 31.38 L1325.16 30.20 L1325.97 29.01 L1326.78 27.82 L1327.59 26.64 L1328.40 25.45 L1329.21 24.27 L1330.02 23.08 L1330.83 21.90 L1331.64 20.71 L1332.45 19.52 L1333.26 18.34 L1334.07 17.15 L1334.88 15.97 L1335.69 14.78 L1336.50 13.59 L1337.31 12.41 L1338.12 11.22 L1338.93 10.04 L1339.74 8.85 L1340.55 7.67 L1341.36 6.48 L1342.17 5.29 L1342.98 4.11 L1343.79 2.92 L1344.60 1.74 L1345.41 0.55 L1346.22 -0.64 L1347.03 -1.82 L1347.84 -3.01 L1348.65 -4.19 L1349.46 -5.38 L1350.27 -6.56 L1351.08 -7.75 L1351.89 -8.94 L1352.70 -10.12 L1353.51 -11.31 L1354.32 -12.49 L1355.13 -13.68 L1355.94 -14.87 L1356.75 -16.05 L1357.56 -17.24 L1358.37 -18.42 L1359.18 -19.61 L1359.99 -20.79 L1360.80 -21.98 L1361.61 -23.17 L1362.42 -24.35 L1363.23 -25.54 L1364.04 -26.72 L1364.85 -27.91 L1365.66 -29.10 L1366.47 -30.28 L1367.28 -31.47 L1368.09 -32.65 L1368.90 -33.84 L1369.71 -35.02 L1370.52 -36.21 L1371.33 -37.40 L1372.14 -38.58 L1372.95 -39.77 L1373.76 -40.95 L1374.57 -42.14 L1375.38 -43.33 L1376.19 -44.51 L1377.00 -45.70 L1377.81 -46.88 L1378.62 -48.07 L1379.43 -49.25 L1380.24 -50.44 L1381.05 -51.63 L1381.86 -52.81 L1382.67 -54.00 L1383.48 -55.18 L1384.29 -56.37 L1385.10 -57.56 L1385.91 -58.74 L1386.72 -59.93 L1387.53 -61.11 L1388.34 -62.30 L1389.15 -63.48 L1389.96 -64.67 L1390.77 -65.86 L1391.58 -67.04 L1392.39 -68.23 L1393.20 -69.41 L1394.01 -70.60 L1394.82 -71.79 L1395.63 -72.97 L1396.44 -74.16 L1397.25 -75.34 L1398.06 -76.53 L1398.87 -77.71 L1399.68 -78.90 L1400.49 -80.09 L1401.30 -81.27 L1402.11 -82.46 L1402.92 -83.64 L1403.73 -84.83 L1404.54 -86.02 L1405.35 -87.20 L1406.16 -88.39 L1406.97 -89.57 L1407.78 -90.76 L1408.59 -91.94 L1409.40 -93.13 L1410.21 -94.32 L1411.02 -95.50 L1411.83 -96.69 L1412.64 -97.87 L1413.45 -99.06 L1414.26 -100.25 L1415.07 -101.43 L1415.88 -102.62 L1416.69 -103.80 L1417.50 -104.99 L1418.31 -106.17 L1419.12 -107.36 L1419.93 -108.55 L1420.74 -109.73 L1421.55 -110.92 L1422.36 -112.10 L1423.17 -113.29 L1423.98 -114.48 L1424.79 -115.66 L1425.60 -116.85 L1426.41 -118.03 L1427.22 -119.22 L1428.03 -120.40 L1428.84 -121.59 L1429.65 -122.78 L1430.46 -123.96 L1431.27 -125.15 L1432.08 -126.33 L1432.89 -127.52 L1433.70 -128.71 L1434.51 -129.89 L1435.32 -131.08 L1436.13 -132.26 L1436.94 -133.45 L1437.75 -134.63 L1438.56 -135.82 L1439.37 -137.01 L1440.18 -138.19 L1440.99 -139.38 L1441.80 -140.56 L1442.61 -141.75 L1443.42 -142.94 L1444.23 -144.12 L1445.04 -145.31 L1445.85 -146.49 L1446.66 -147.68 L1447.47 -148.86 L1448.28 -150.05 L1449.09 -151.24 L1449.90 -152.42 L1450.71 -153.61 L1451.52 -154.79 L1452.33 -155.98 L1453.14 -157.17 L1453.95 -158.35" stroke="#ed1c24" stroke-dasharray="15 14.9" stroke-dashoffset="0"/>
<path d="M481.95 384.80 L482.76 384.81 L483.57 384.81 L484.38 384.81 L485.19 384.81 L486.00 384.82 L486.81 384.82 L487.62 384.82 L488.43 384.82 L489.24 384.82 L490.05 384.83 L490.86 384.83 L491.67 384.83 L492.48 384.83 L493.29 384.84 L494.10 384.84 L494.91 384.84 L495.72 384.84 L496.53 384.85 L497.34 384.85 L498.15 384.85 L498.96 384.86 L499.77 384.86 L500.58 384.86 L501.39 384.87 L502.20 384.87 L503.01 384.87 L503.82 384.88 L504.63 384.88 L505.44 384.88 L506.25 384.89 L507.06 384.89 L507.87 384.89 L508.68 384.90 L509.49 384.90 L510.30 384.90 L511.11 384.91 L511.92 384.91 L512.73 384.92 L513.54 384.92 L514.35 384.93 L515.16 384.93 L515.97 384.93 L516.78 384.94 L517.59 384.94 L518.40 384.95 L519.21 384.95 L520.02 384.96 L520.83 384.96 L521.64 384.97 L522.45 384.97 L523.26 384.98 L524.07 384.98 L524.88 384.99 L525.69 384.99 L526.50 385.00 L527.31 385.01 L528.12 385.01 L528.93 385.02 L529.74 385.02 L530.55 385.03 L531.36 385.04 L532.17 385.04 L532.98 385.05 L533.79 385.06 L534.60 385.06 L535.41 385.07 L536.22 385.08 L537.03 385.08 L537.84 385.09 L538.65 385.10 L539.46 385.11 L540.27 385.12 L541.08 385.12 L541.89 385.13 L542.70 385.14 L543.51 385.15 L544.32 385.16 L545.13 385.17 L545.94 385.18 L546.75 385.18 L547.56 385.19 L548.37 385.20 L549.18 385.21 L549.99 385.22 L550.80 385.23 L551.61 385.24 L552.42 385.25 L553.23 385.26 L554.04 385.28 L554.85 385.29 L555.66 385.30 L556.47 385.31 L557.28 385.32 L558.09 385.33 L558.90 385.34 L559.71 385.36 L560.52 385.37 L561.33 385.38 L562.14 385.40 L562.95 385.41 L563.76 385.42 L564.57 385.44 L565.38 385.45 L566.19 385.47 L567.00 385.48 L567.81 385.50 L568.62 385.51 L569.43 385.53 L570.24 385.54 L571.05 385.56 L571.86 385.58 L572.67 385.59 L573.48 385.61 L574.29 385.63 L575.10 385.64 L575.91 385.66 L576.72 385.68 L577.53 385.70 L578.34 385.72 L579.15 385.74 L579.96 385.76 L580.77 385.78 L581.58 385.80 L582.39 385.82 L583.20 385.84 L584.01 385.86 L584.82 385.89 L585.63 385.91 L586.44 385.93 L587.25 385.96 L588.06 385.98 L588.87 386.00 L589.68 386.03 L590.49 386.06 L591.30 386.08 L592.11 386.11 L592.92 386.13 L593.73 386.16 L594.54 386.19 L595.35 386.22 L596.16 386.25 L596.97 386.28 L597.78 386.31 L598.59 386.34 L599.40 386.37 L600.21 386.40 L601.02 386.43 L601.83 386.47 L602.64 386.50 L603.45 386.54 L604.26 386.57 L605.07 386.61 L605.88 386.64 L606.69 386.68 L607.50 386.72 L608.31 386.76 L609.12 386.79 L609.93 386.83 L610.74 386.88 L611.55 386.92 L612.36 386.96 L613.17 387.00 L613.98 387.05 L614.79 387.09 L615.60 387.14 L616.41 387.18 L617.22 387.23 L618.03 387.28 L618.84 387.33 L619.65 387.38 L620.46 387.43 L621.27 387.48 L622.08 387.53 L622.89 387.58 L623.70 387.64 L624.51 387.69 L625.32 387.75 L626.13 387.81 L626.94 387.87 L627.75 387.93 L628.56 387.99 L629.37 388.05 L630.18 388.11 L630.99 388.18 L631.80 388.24 L632.61 388.31 L633.42 388.38 L634.23 388.45 L635.04 388.52 L635.85 388.59 L636.66 388.66 L637.47 388.74 L638.28 388.81 L639.09 388.89 L639.90 388.97 L640.71 389.05 L641.52 389.13 L642.33 389.21 L643.14 389.29 L643.95 389.38 L644.76 389.47 L645.57 389.56 L646.38 389.65 L647.19 389.74 L648.00 389.83 L648.81 389.93 L649.62 390.02 L650.43 390.12 L651.24 390.22 L652.05 390.33 L652.86 390.43 L653.67 390.54 L654.48 390.64 L655.29 390.75 L656.10 390.87 L656.91 390.98 L657.72 391.09 L658.53 391.21 L659.34 391.33 L660.15 391.45 L660.96 391.58 L661.77 391.70 L662.58 391.83 L663.39 391.96 L664.20 392.09 L665.01 392.23 L665.82 392.37 L666.63 392.51 L667.44 392.65 L668.25 392.79 L669.06 392.94 L669.87 393.09 L670.68 393.24 L671.49 393.39 L672.30 393.55 L673.11 393.71 L673.92 393.87 L674.73 394.04 L675.54 394.21 L676.35 394.38 L677.16 394.55 L677.97 394.73 L678.78 394.90 L679.59 395.09 L680.40 395.27 L681.21 395.46 L682.02 395.65 L682.83 395.84 L683.64 396.04 L684.45 396.24 L685.26 396.45 L686.07 396.65 L686.88 396.86 L687.69 397.08 L688.50 397.29 L689.31 397.51 L690.12 397.74 L690.93 397.96 L691.74 398.20 L692.55 398.43 L693.36 398.67 L694.17 398.91 L694.98 399.16 L695.79 399.40 L696.60 399.66 L697.41 399.91 L698.22 400.17 L699.03 400.44 L699.84 400.71 L700.65 400.98 L701.46 401.26 L702.27 401.54 L703.08 401.82 L703.89 402.11 L704.70 402.41 L705.51 402.70 L706.32 403.00 L707.13 403.31 L707.94 403.62 L708.75 403.94 L709.56 404.26 L710.37 404.58 L711.18 404.91 L711.99 405.24 L712.80 405.58 L713.61 405.92 L714.42 406.27 L715.23 406.62 L716.04 406.98 L716.85 407.34 L717.66 407.70 L718.47 408.07 L719.28 408.45 L720.09 408.83 L720.90 409.22 L721.71 409.61 L722.52 410.00 L723.33 410.41 L724.14 410.81 L724.95 411.22 L725.76 411.64 L726.57 412.06 L727.38 412.49 L728.19 412.92 L729.00 413.36 L729.81 413.80 L730.62 414.25 L731.43 414.70 L732.24 415.16 L733.05 415.62 L733.86 416.09 L734.67 416.57 L735.48 417.05 L736.29 417.53 L737.10 418.03 L737.91 418.52 L738.72 419.03 L739.53 419.53 L740.34 420.05 L741.15 420.57 L741.96 421.09 L742.77 421.62 L743.58 422.16 L744.39 422.70 L745.20 423.25 L746.01 423.80 L746.82 424.36 L747.63 424.92 L748.44 425.49 L749.25 426.07 L750.06 426.65 L750.87 427.24 L751.68 427.83 L752.49 428.43 L753.30 429.03 L754.11 429.64 L754.92 430.26 L755.73 430.88 L756.54 431.51 L757.35 432.14 L758.16 432.78 L758.97 433.42 L759.78 434.07 L760.59 434.73 L761.40 435.39 L762.21 436.06 L763.02 436.73 L763.83 437.41 L764.64 438.09 L765.45 438.78 L766.26 439.47 L767.07 440.17 L767.88 440.88 L768.69 441.59 L769.50 442.30 L770.31 443.03 L771.12 443.75 L771.93 444.48 L772.74 445.22 L773.55 445.97 L774.36 446.71 L775.17 447.47 L775.98 448.23 L776.79 448.99 L777.60 449.76 L778.41 450.54 L779.22 451.31 L780.03 452.10 L780.84 452.89 L781.65 453.68 L782.46 454.48 L783.27 455.29 L784.08 456.10 L784.89 456.91 L785.70 457.73 L786.51 458.56 L787.32 459.39 L788.13 460.22 L788.94 461.06 L789.75 461.90 L790.56 462.75 L791.37 463.60 L792.18 464.46 L792.99 465.32 L793.80 466.19 L794.61 467.06 L795.42 467.94 L796.23 468.82 L797.04 469.70 L797.85 470.59 L798.66 471.48 L799.47 472.38 L800.28 473.28 L801.09 474.18 L801.90 475.09 L802.71 476.01 L803.52 476.92 L804.33 477.84 L805.14 478.77 L805.95 479.70 L806.76 480.63 L807.57 481.57 L808.38 482.51 L809.19 483.45 L810.00 484.40 L810.81 485.35 L811.62 486.31 L812.43 487.26 L813.24 488.23 L814.05 489.19 L814.86 490.16 L815.67 491.13 L816.48 492.11 L817.29 493.09 L818.10 494.07 L818.91 495.05 L819.72 496.04 L820.53 497.03 L821.34 498.03 L822.15 499.03 L822.96 500.03 L823.77 501.03 L824.58 502.04 L825.39 503.05 L826.20 504.06 L827.01 505.08 L827.82 506.09 L828.63 507.11 L829.44 508.14 L830.25 509.16 L831.06 510.19 L831.87 511.22 L832.68 512.26 L833.49 513.29 L834.30 514.33 L835.11 515.38 L835.92 516.42 L836.73 517.47 L837.54 518.51 L838.35 519.56 L839.16 520.62 L839.97 521.67 L840.78 522.73 L841.59 523.79 L842.40 524.85 L843.21 525.92 L844.02 526.98 L844.83 528.05 L845.64 529.12 L846.45 530.19 L847.26 531.27 L848.07 532.34 L848.88 533.42 L849.69 534.50 L850.50 535.58 L851.31 536.67 L852.12 537.75 L852.93 538.84 L853.74 539.93 L854.55 541.02 L855.36 542.11 L856.17 543.20 L856.98 544.30 L857.79 545.39 L858.60 546.49 L859.41 547.59 L860.22 548.69 L861.03 549.80 L861.84 550.90 L862.65 552.01 L863.46 553.11 L864.27 554.22 L865.08 555.33 L865.89 556.44 L866.70 557.56 L867.51 558.67 L868.32 559.79 L869.13 560.90 L869.94 562.02 L870.75 563.14 L871.56 564.26 L872.37 565.38 L873.18 566.50 L873.99 567.63 L874.80 568.75 L875.61 569.88 L876.42 571.00 L877.23 572.13 L878.04 573.26 L878.85 574.39 L879.66 575.52 L880.47 576.65 L881.28 577.79 L882.09 578.92 L882.90 580.05 L883.71 581.19 L884.52 582.33 L885.33 583.46 L886.14 584.60 L886.95 585.74 L887.76 586.88 L888.57 588.02 L889.38 589.16 L890.19 590.31 L891.00 591.45 L891.81 592.59 L892.62 593.74 L893.43 594.88 L894.24 596.03 L895.05 597.18 L895.86 598.32 L896.67 599.47 L897.48 600.62 L898.29 601.77 L899.10 602.92 L899.91 604.07 L900.72 605.22 L901.53 606.37 L902.34 607.53 L903.15 608.68 L903.96 609.83 L904.77 610.99 L905.58 612.14 L906.39 613.30 L907.20 614.45 L908.01 615.61 L908.82 616.77 L909.63 617.92 L910.44 619.08 L911.25 620.24 L912.06 621.40 L912.87 622.56 L913.68 623.72 L914.49 624.88 L915.30 626.04 L916.11 627.20 L916.92 628.36 L917.73 629.52 L918.54 630.68 L919.35 631.85 L920.16 633.01 L920.97 634.17 L921.78 635.34 L922.59 636.50 L923.40 637.66 L924.21 638.83 L925.02 639.99 L925.83 641.16 L926.64 642.32 L927.45 643.49 L928.26 644.66 L929.07 645.82 L929.88 646.99 L930.69 648.16 L931.50 649.32 L932.31 650.49 L933.12 651.66 L933.93 652.83 L934.74 653.99 L935.55 655.16 L936.36 656.33 L937.17 657.50 L937.98 658.67 L938.79 659.84 L939.60 661.01 L940.41 662.17 L941.22 663.34 L942.03 664.51 L942.84 665.68 L943.65 666.85 L944.46 668.02 L945.27 669.19 L946.08 670.36 L946.89 671.53 L947.70 672.70 L948.51 673.87 L949.32 675.04 L950.13 676.21 L950.94 677.39 L951.75 678.56 L952.56 679.73 L953.37 680.90 L954.18 682.07 L954.99 683.24 L955.80 684.41 L956.61 685.58 L957.42 686.75 L958.23 687.92 L959.04 689.09 L959.85 690.26 L960.66 691.43 L961.47 692.60 L962.28 693.77 L963.09 694.94 L963.90 696.11 L964.71 697.28 L965.52 698.45 L966.33 699.62 L967.14 700.79 L967.95 701.96 L968.76 703.13 L969.57 704.29 L970.38 705.46 L971.19 706.63 L972.00 707.80 L972.81 708.97 L973.62 710.13 L974.43 711.30 L975.24 712.47 L976.05 713.63 L976.86 714.80 L977.67 715.96 L978.48 717.13 L979.29 718.29 L980.10 719.46 L980.91 720.62 L981.72 721.78 L982.53 722.94 L983.34 724.11 L984.15 725.27 L984.96 726.43 L985.77 727.59 L986.58 728.75 L987.39 729.91 L988.20 731.06 L989.01 732.22 L989.82 733.38 L990.63 734.53 L991.44 735.69 L992.25 736.84 L993.06 737.99 L993.87 739.14 L994.68 740.29 L995.49 741.44 L996.30 742.59 L997.11 743.74 L997.92 744.88 L998.73 746.03 L999.54 747.17 L1000.35 748.31 L1001.16 749.46 L1001.97 750.59 L1002.78 751.73 L1003.59 752.87 L1004.40 754.00 L1005.21 755.14 L1006.02 756.27 L1006.83 757.40 L1007.64 758.52 L1008.45 759.65 L1009.26 760.77 L1010.07 761.89 L1010.88 763.01 L1011.69 764.13 L1012.50 765.24 L1013.31 766.35 L1014.12 767.46 L1014.93 768.57 L1015.74 769.67 L1016.55 770.77 L1017.36 771.87 L1018.17 772.97 L1018.98 774.06 L1019.79 775.14 L1020.60 776.23 L1021.41 777.31 L1022.22 778.39 L1023.03 779.46 L1023.84 780.53 L1024.65 781.60 L1025.46 782.66 L1026.27 783.72 L1027.08 784.77 L1027.89 785.82 L1028.70 786.86 L1029.51 787.90 L1030.32 788.93 L1031.13 789.96 L1031.94 790.98 L1032.75 792.00 L1033.56 793.01 L1034.37 794.01 L1035.18 795.01 L1035.99 796.01 L1036.80 796.99 L1037.61 797.97 L1038.42 798.94 L1039.23 799.90 L1040.04 800.86 L1040.85 801.81 L1041.66 802.75 L1042.47 803.68 L1043.28 804.60 L1044.09 805.52 L1044.90 806.42 L1045.71 807.32 L1046.52 808.21 L1047.33 809.08 L1048.14 809.95 L1048.95 810.81 L1049.76 811.65 L1050.57 812.48 L1051.38 813.31 L1052.19 814.12 L1053.00 814.92 L1053.81 815.70 L1054.62 816.48 L1055.43 817.24 L1056.24 817.99 L1057.05 818.72 L1057.86 819.44 L1058.67 820.15 L1059.48 820.84 L1060.29 821.52 L1061.10 822.18 L1061.91 822.82 L1062.72 823.45 L1063.53 824.07 L1064.34 824.67 L1065.15 825.25 L1065.96 825.81 L1066.77 826.36 L1067.58 826.88 L1068.39 827.40 L1069.20 827.89 L1070.01 828.36 L1070.82 828.81 L1071.63 829.25 L1072.44 829.66 L1073.25 830.06 L1074.06 830.44 L1074.87 830.79 L1075.68 831.13 L1076.49 831.44 L1077.30 831.73 L1078.11 832.01 L1078.92 832.26 L1079.73 832.49 L1080.54 832.69 L1081.35 832.88 L1082.16 833.04 L1082.97 833.19 L1083.78 833.31 L1084.59 833.40 L1085.40 833.48 L1086.21 833.53 L1087.02 833.56 L1087.83 833.57 L1088.64 833.56 L1089.45 833.52 L1090.26 833.46 L1091.07 833.38 L1091.88 833.28 L1092.69 833.15 L1093.50 833.00 L1094.31 832.83 L1095.12 832.64 L1095.93 832.43 L1096.74 832.19 L1097.55 831.94 L1098.36 831.66 L1099.17 831.36 L1099.98 831.04 L1100.79 830.70 L1101.60 830.34 L1102.41 829.96 L1103.22 829.56 L1104.03 829.13 L1104.84 828.69 L1105.65 828.23 L1106.46 827.76 L1107.27 827.26 L1108.08 826.74 L1108.89 826.21 L1109.70 825.66 L1110.51 825.09 L1111.32 824.51 L1112.13 823.91 L1112.94 823.29 L1113.75 822.65 L1114.56 822.00 L1115.37 821.34 L1116.18 820.66 L1116.99 819.96 L1117.80 819.25 L1118.61 818.53 L1119.42 817.79 L1120.23 817.04 L1121.04 816.27 L1121.85 815.49 L1122.66 814.70 L1123.47 813.90 L1124.28 813.09 L1125.09 812.26 L1125.90 811.42 L1126.71 810.58 L1127.52 809.72 L1128.33 808.85 L1129.14 807.97 L1129.95 807.08 L1130.76 806.18 L1131.57 805.27 L1132.38 804.36 L1133.19 803.43 L1134.00 802.50 L1134.81 801.55 L1135.62 800.60 L1136.43 799.65 L1137.24 798.68 L1138.05 797.71 L1138.86 796.73 L1139.67 795.74 L1140.48 794.75 L1141.29 793.75 L1142.10 792.74 L1142.91 791.73 L1143.72 790.71 L1144.53 789.68 L1145.34 788.66 L1146.15 787.62 L1146.96 786.58 L1147.77 785.54 L1148.58 784.49 L1149.39 783.43 L1150.20 782.37 L1151.01 781.31 L1151.82 780.25 L1152.63 779.17 L1153.44 778.10 L1154.25 777.02 L1155.06 775.94 L1155.87 774.85 L1156.68 773.76 L1157.49 772.67 L1158.30 771.58 L1159.11 770.48 L1159.92 769.38 L1160.73 768.27 L1161.54 767.16 L1162.35 766.05 L1163.16 764.94 L1163.97 763.83 L1164.78 762.71 L1165.59 761.59 L1166.40 760.47 L1167.21 759.35 L1168.02 758.22 L1168.83 757.09 L1169.64 755.96 L1170.45 754.83 L1171.26 753.70 L1172.07 752.56 L1172.88 751.43 L1173.69 750.29 L1174.50 749.15 L1175.31 748.01 L1176.12 746.87 L1176.93 745.72 L1177.74 744.58 L1178.55 743.43 L1179.36 742.28 L1180.17 741.13 L1180.98 739.98 L1181.79 738.83 L1182.60 737.68 L1183.41 736.53 L1184.22 735.38 L1185.03 734.22 L1185.84 733.07 L1186.65 731.91 L1187.46 730.75 L1188.27 729.59 L1189.08 728.44 L1189.89 727.28 L1190.70 726.12 L1191.51 724.96 L1192.32 723.79 L1193.13 722.63 L1193.94 721.47 L1194.75 720.31 L1195.56 719.14 L1196.37 717.98 L1197.18 716.81 L1197.99 715.65 L1198.80 714.48 L1199.61 713.32 L1200.42 712.15 L1201.23 710.99 L1202.04 709.82 L1202.85 708.65 L1203.66 707.48 L1204.47 706.32 L1205.28 705.15 L1206.09 703.98 L1206.90 702.81 L1207.71 701.64 L1208.52 700.47 L1209.33 699.30 L1210.14 698.14 L1210.95 696.97 L1211.76 695.80 L1212.57 694.63 L1213.38 693.46 L1214.19 692.29 L1215.00 691.12 L1215.81 689.95 L1216.62 688.78 L1217.43 687.61 L1218.24 686.44 L1219.05 685.26 L1219.86 684.09 L1220.67 682.92 L1221.48 681.75 L1222.29 680.58 L1223.10 679.41 L1223.91 678.24 L1224.72 677.07 L1225.53 675.90 L1226.34 674.73 L1227.15 673.56 L1227.96 672.39 L1228.77 671.22 L1229.58 670.05 L1230.39 668.88 L1231.20 667.71 L1232.01 666.54 L1232.82 665.37 L1233.63 664.20 L1234.44 663.03 L1235.25 661.86 L1236.06 660.69 L1236.87 659.52 L1237.68 658.35 L1238.49 657.18 L1239.30 656.02 L1240.11 654.85 L1240.92 653.68 L1241.73 652.51 L1242.54 651.34 L1243.35 650.18 L1244.16 649.01 L1244.97 647.84 L1245.78 646.68 L1246.59 645.51 L1247.40 644.34 L1248.21 643.18 L1249.02 642.01 L1249.83 640.85 L1250.64 639.68 L1251.45 638.52 L1252.26 637.35 L1253.07 636.19 L1253.88 635.02 L1254.69 633.86 L1255.50 632.70 L1256.31 631.53 L1257.12 630.37 L1257.93 629.21 L1258.74 628.05 L1259.55 626.89 L1260.36 625.73 L1261.17 624.57 L1261.98 623.41 L1262.79 622.25 L1263.60 621.09 L1264.41 619.93 L1265.22 618.77 L1266.03 617.61 L1266.84 616.46 L1267.65 615.30 L1268.46 614.14 L1269.27 612.99 L1270.08 611.83 L1270.89 610.68 L1271.70 609.52 L1272.51 608.37 L1273.32 607.22 L1274.13 606.06 L1274.94 604.91 L1275.75 603.76 L1276.56 602.61 L1277.37 601.46 L1278.18 600.31 L1278.99 599.16 L1279.80 598.01 L1280.61 596.87 L1281.42 595.72 L1282.23 594.57 L1283.04 593.43 L1283.85 592.28 L1284.66 591.14 L1285.47 590.00 L1286.28 588.86 L1287.09 587.71 L1287.90 586.57 L1288.71 585.43 L1289.52 584.30 L1290.33 583.16 L1291.14 582.02 L1291.95 580.88 L1292.76 579.75 L1293.57 578.61 L1294.38 577.48 L1295.19 576.35 L1296.00 575.22 L1296.81 574.09 L1297.62 572.96 L1298.43 571.83 L1299.24 570.70 L1300.05 569.57 L1300.86 568.45 L1301.67 567.32 L1302.48 566.20 L1303.29 565.08 L1304.10 563.96 L1304.91 562.84 L1305.72 561.72 L1306.53 560.60 L1307.34 559.49 L1308.15 558.37 L1308.96 557.26 L1309.77 556.15 L1310.58 555.03 L1311.39 553.92 L1312.20 552.82 L1313.01 551.71 L1313.82 550.60 L1314.63 549.50 L1315.44 548.40 L1316.25 547.30 L1317.06 546.20 L1317.87 545.10 L1318.68 544.00 L1319.49 542.91 L1320.30 541.81 L1321.11 540.72 L1321.92 539.63 L1322.73 538.55 L1323.54 537.46 L1324.35 536.37 L1325.16 535.29 L1325.97 534.21 L1326.78 533.13 L1327.59 532.05 L1328.40 530.98 L1329.21 529.90 L1330.02 528.83 L1330.83 527.76 L1331.64 526.70 L1332.45 525.63 L1333.26 524.57 L1334.07 523.51 L1334.88 522.45 L1335.69 521.39 L1336.50 520.33 L1337.31 519.28 L1338.12 518.23 L1338.93 517.18 L1339.74 516.14 L1340.55 515.10 L1341.36 514.05 L1342.17 513.02 L1342.98 511.98 L1343.79 510.95 L1344.60 509.92 L1345.41 508.89 L1346.22 507.86 L1347.03 506.84 L1347.84 505.82 L1348.65 504.80 L1349.46 503.79 L1350.27 502.78 L1351.08 501.77 L1351.89 500.76 L1352.70 499.76 L1353.51 498.76 L1354.32 497.76 L1355.13 496.77 L1355.94 495.78 L1356.75 494.79 L1357.56 493.80 L1358.37 492.82 L1359.18 491.85 L1359.99 490.87 L1360.80 489.90 L1361.61 488.93 L1362.42 487.97 L1363.23 487.01 L1364.04 486.05 L1364.85 485.09 L1365.66 484.14 L1366.47 483.20 L1367.28 482.25 L1368.09 481.32 L1368.90 480.38 L1369.71 479.45 L1370.52 478.52 L1371.33 477.60 L1372.14 476.68 L1372.95 475.76 L1373.76 474.85 L1374.57 473.94 L1375.38 473.04 L1376.19 472.14 L1377.00 471.24 L1377.81 470.35 L1378.62 469.46 L1379.43 468.58 L1380.24 467.70 L1381.05 466.83 L1381.86 465.96 L1382.67 465.09 L1383.48 464.23 L1384.29 463.38 L1385.10 462.52 L1385.91 461.68 L1386.72 460.83 L1387.53 460.00 L1388.34 459.16 L1389.15 458.34 L1389.96 457.51 L1390.77 456.69 L1391.58 455.88 L1392.39 455.07 L1393.20 454.27 L1394.01 453.47 L1394.82 452.68 L1395.63 451.89 L1396.44 451.10 L1397.25 450.33 L1398.06 449.55 L1398.87 448.79 L1399.68 448.02 L1400.49 447.26 L1401.30 446.51 L1402.11 445.77 L1402.92 445.02 L1403.73 444.29 L1404.54 443.56 L1405.35 442.83 L1406.16 442.11 L1406.97 441.40 L1407.78 440.69 L1408.59 439.98 L1409.40 439.28 L1410.21 438.59 L1411.02 437.90 L1411.83 437.22 L1412.64 436.55 L1413.45 435.88 L1414.26 435.21 L1415.07 434.55 L1415.88 433.90 L1416.69 433.25 L1417.50 432.61 L1418.31 431.97 L1419.12 431.34 L1419.93 430.71 L1420.74 430.09 L1421.55 429.48 L1422.36 428.87 L1423.17 428.27 L1423.98 427.67 L1424.79 427.08 L1425.60 426.50 L1426.41 425.92 L1427.22 425.34 L1428.03 424.77 L1428.84 424.21 L1429.65 423.65 L1430.46 423.10 L1431.27 422.55 L1432.08 422.01 L1432.89 421.48 L1433.70 420.95 L1434.51 420.43 L1435.32 419.91 L1436.13 419.40 L1436.94 418.89 L1437.75 418.39 L1438.56 417.89 L1439.37 417.40 L1440.18 416.92 L1440.99 416.44 L1441.80 415.97 L1442.61 415.50 L1443.42 415.04 L1444.23 414.58 L1445.04 414.13 L1445.85 413.68 L1446.66 413.24 L1447.47 412.80 L1448.28 412.37 L1449.09 411.95 L1449.90 411.53 L1450.71 411.11 L1451.52 410.70 L1452.33 410.30 L1453.14 409.90 L1453.95 409.50" stroke="#3853a5" stroke-opacity="0.25"/>
<path d="M481.95 499.67 L482.76 500.67 L483.57 501.67 L484.38 502.68 L485.19 503.69 L486.00 504.71 L486.81 505.73 L487.62 506.75 L488.43 507.77 L489.24 508.79 L490.05 509.82 L490.86 510.85 L491.67 511.89 L492.48 512.92 L493.29 513.96 L494.10 515.00 L494.91 516.04 L495.72 517.09 L496.53 518.14 L497.34 519.19 L498.15 520.24 L498.96 521.29 L499.77 522.35 L500.58 523.41 L501.39 524.47 L502.20 525.53 L503.01 526.60 L503.82 527.66 L504.63 528.73 L505.44 529.81 L506.25 530.88 L507.06 531.95 L507.87 533.03 L508.68 534.11 L509.49 535.19 L510.30 536.27 L511.11 537.36 L511.92 538.45 L512.73 539.53 L513.54 540.62 L514.35 541.71 L515.16 542.81 L515.97 543.90 L516.78 545.00 L517.59 546.10 L518.40 547.20 L519.21 548.30 L520.02 549.40 L520.83 550.50 L521.64 551.61 L522.45 552.71 L523.26 553.82 L524.07 554.93 L524.88 556.04 L525.69 557.15 L526.50 558.27 L527.31 559.38 L528.12 560.50 L528.93 561.62 L529.74 562.73 L530.55 563.85 L531.36 564.98 L532.17 566.10 L532.98 567.22 L533.79 568.34 L534.60 569.47 L535.41 570.60 L536.22 571.72 L537.03 572.85 L537.84 573.98 L538.65 575.11 L539.46 576.24 L540.27 577.38 L541.08 578.51 L541.89 579.64 L542.70 580.78 L543.51 581.92 L544.32 583.05 L545.13 584.19 L545.94 585.33 L546.75 586.47 L547.56 587.61 L548.37 588.75 L549.18 589.89 L549.99 591.04 L550.80 592.18 L551.61 593.32 L552.42 594.47 L553.23 595.61 L554.04 596.76 L554.85 597.91 L555.66 599.06 L556.47 600.21 L557.28 601.35 L558.09 602.50 L558.90 603.65 L559.71 604.81 L560.52 605.96 L561.33 607.11 L562.14 608.26 L562.95 609.42 L563.76 610.57 L564.57 611.73 L565.38 612.88 L566.19 614.04 L567.00 615.19 L567.81 616.35 L568.62 617.51 L569.43 618.66 L570.24 619.82 L571.05 620.98 L571.86 622.14 L572.67 623.30 L573.48 624.46 L574.29 625.62 L575.10 626.78 L575.91 627.94 L576.72 629.10 L577.53 630.26 L578.34 631.43 L579.15 632.59 L579.96 633.75 L580.77 634.92 L581.58 636.08 L582.39 637.24 L583.20 638.41 L584.01 639.57 L584.82 640.74 L585.63 641.90 L586.44 643.07 L587.25 644.24 L588.06 645.40 L588.87 646.57 L589.68 647.73 L590.49 648.90 L591.30 650.07 L592.11 651.24 L592.92 652.40 L593.73 653.57 L594.54 654.74 L595.35 655.91 L596.16 657.08 L596.97 658.25 L597.78 659.41 L598.59 660.58 L599.40 661.75 L600.21 662.92 L601.02 664.09 L601.83 665.26 L602.64 666.43 L603.45 667.60 L604.26 668.77 L605.07 669.94 L605.88 671.11 L606.69 672.28 L607.50 673.45 L608.31 674.62 L609.12 675.79 L609.93 676.96 L610.74 678.13 L611.55 679.30 L612.36 680.47 L613.17 681.64 L613.98 682.81 L614.79 683.99 L615.60 685.16 L616.41 686.33 L617.22 687.50 L618.03 688.67 L618.84 689.84 L619.65 691.01 L620.46 692.18 L621.27 693.35 L622.08 694.52 L622.89 695.69 L623.70 696.86 L624.51 698.03 L625.32 699.20 L626.13 700.36 L626.94 701.53 L627.75 702.70 L628.56 703.87 L629.37 705.04 L630.18 706.21 L630.99 707.37 L631.80 708.54 L632.61 709.71 L633.42 710.88 L634.23 712.04 L635.04 713.21 L635.85 714.37 L636.66 715.54 L637.47 716.70 L638.28 717.87 L639.09 719.03 L639.90 720.20 L640.71 721.36 L641.52 722.52 L642.33 723.68 L643.14 724.84 L643.95 726.00 L644.76 727.16 L645.57 728.32 L646.38 729.48 L647.19 730.64 L648.00 731.80 L648.81 732.95 L649.62 734.11 L650.43 735.26 L651.24 736.42 L652.05 737.57 L652.86 738.72 L653.67 739.87 L654.48 741.02 L655.29 742.17 L656.10 743.32 L656.91 744.46 L657.72 745.61 L658.53 746.75 L659.34 747.89 L660.15 749.03 L660.96 750.17 L661.77 751.31 L662.58 752.45 L663.39 753.58 L664.20 754.71 L665.01 755.85 L665.82 756.97 L666.63 758.10 L667.44 759.23 L668.25 760.35 L669.06 761.47 L669.87 762.59 L670.68 763.71 L671.49 764.82 L672.30 765.93 L673.11 767.04 L673.92 768.15 L674.73 769.25 L675.54 770.35 L676.35 771.45 L677.16 772.55 L677.97 773.64 L678.78 774.73 L679.59 775.81 L680.40 776.90 L681.21 777.97 L682.02 779.05 L682.83 780.12 L683.64 781.18 L684.45 782.25 L685.26 783.30 L686.07 784.36 L686.88 785.41 L687.69 786.45 L688.50 787.49 L689.31 788.52 L690.12 789.55 L690.93 790.57 L691.74 791.59 L692.55 792.60 L693.36 793.61 L694.17 794.61 L694.98 795.60 L695.79 796.58 L696.60 797.56 L697.41 798.53 L698.22 799.50 L699.03 800.46 L699.84 801.41 L700.65 802.35 L701.46 803.28 L702.27 804.20 L703.08 805.12 L703.89 806.03 L704.70 806.92 L705.51 807.81 L706.32 808.69 L707.13 809.55 L707.94 810.41 L708.75 811.26 L709.56 812.09 L710.37 812.92 L711.18 813.73 L711.99 814.53 L712.80 815.32 L713.61 816.09 L714.42 816.85 L715.23 817.60 L716.04 818.34 L716.85 819.06 L717.66 819.77 L718.47 820.46 L719.28 821.14 L720.09 821.80 L720.90 822.45 L721.71 823.08 L722.52 823.70 L723.33 824.30 L724.14 824.88 L724.95 825.44 L725.76 825.99 L726.57 826.52 L727.38 827.03 L728.19 827.53 L729.00 828.00 L729.81 828.46 L730.62 828.90 L731.43 829.31 L732.24 829.71 L733.05 830.09 L733.86 830.45 L734.67 830.78 L735.48 831.10 L736.29 831.39 L737.10 831.67 L737.91 831.92 L738.72 832.15 L739.53 832.36 L740.34 832.55 L741.15 832.72 L741.96 832.86 L742.77 832.98 L743.58 833.08 L744.39 833.16 L745.20 833.21 L746.01 833.25 L746.82 833.26 L747.63 833.24 L748.44 833.21 L749.25 833.15 L750.06 833.07 L750.87 832.97 L751.68 832.85 L752.49 832.70 L753.30 832.53 L754.11 832.34 L754.92 832.13 L755.73 831.90 L756.54 831.64 L757.35 831.37 L758.16 831.07 L758.97 830.75 L759.78 830.42 L760.59 830.06 L761.40 829.68 L762.21 829.28 L763.02 828.86 L763.83 828.42 L764.64 827.96 L765.45 827.49 L766.26 826.99 L767.07 826.48 L767.88 825.95 L768.69 825.40 L769.50 824.83 L770.31 824.25 L771.12 823.65 L771.93 823.03 L772.74 822.40 L773.55 821.75 L774.36 821.08 L775.17 820.40 L775.98 819.71 L776.79 819.00 L777.60 818.28 L778.41 817.54 L779.22 816.79 L780.03 816.03 L780.84 815.25 L781.65 814.46 L782.46 813.66 L783.27 812.85 L784.08 812.02 L784.89 811.19 L785.70 810.34 L786.51 809.48 L787.32 808.61 L788.13 807.73 L788.94 806.85 L789.75 805.95 L790.56 805.04 L791.37 804.12 L792.18 803.20 L792.99 802.27 L793.80 801.32 L794.61 800.37 L795.42 799.42 L796.23 798.45 L797.04 797.48 L797.85 796.50 L798.66 795.51 L799.47 794.52 L800.28 793.52 L801.09 792.51 L801.90 791.50 L802.71 790.49 L803.52 789.46 L804.33 788.43 L805.14 787.40 L805.95 786.36 L806.76 785.32 L807.57 784.27 L808.38 783.21 L809.19 782.15 L810.00 781.09 L810.81 780.03 L811.62 778.96 L812.43 777.88 L813.24 776.80 L814.05 775.72 L814.86 774.64 L815.67 773.55 L816.48 772.45 L817.29 771.36 L818.10 770.26 L818.91 769.16 L819.72 768.05 L820.53 766.95 L821.34 765.84 L822.15 764.73 L822.96 763.61 L823.77 762.50 L824.58 761.38 L825.39 760.25 L826.20 759.13 L827.01 758.01 L827.82 756.88 L828.63 755.75 L829.44 754.62 L830.25 753.48 L831.06 752.35 L831.87 751.21 L832.68 750.08 L833.49 748.94 L834.30 747.80 L835.11 746.65 L835.92 745.51 L836.73 744.36 L837.54 743.22 L838.35 742.07 L839.16 740.92 L839.97 739.77 L840.78 738.62 L841.59 737.47 L842.40 736.32 L843.21 735.16 L844.02 734.01 L844.83 732.85 L845.64 731.70 L846.45 730.54 L847.26 729.38 L848.07 728.22 L848.88 727.06 L849.69 725.90 L850.50 724.74 L851.31 723.58 L852.12 722.42 L852.93 721.26 L853.74 720.10 L854.55 718.93 L855.36 717.77 L856.17 716.60 L856.98 715.44 L857.79 714.27 L858.60 713.11 L859.41 711.94 L860.22 710.78 L861.03 709.61 L861.84 708.44 L862.65 707.27 L863.46 706.11 L864.27 704.94 L865.08 703.77 L865.89 702.60 L866.70 701.43 L867.51 700.26 L868.32 699.09 L869.13 697.93 L869.94 696.76 L870.75 695.59 L871.56 694.42 L872.37 693.25 L873.18 692.08 L873.99 690.91 L874.80 689.74 L875.61 688.57 L876.42 687.40 L877.23 686.23 L878.04 685.05 L878.85 683.88 L879.66 682.71 L880.47 681.54 L881.28 680.37 L882.09 679.20 L882.90 678.03 L883.71 676.86 L884.52 675.69 L885.33 674.52 L886.14 673.35 L886.95 672.18 L887.76 671.01 L888.57 669.84 L889.38 668.67 L890.19 667.50 L891.00 666.33 L891.81 665.16 L892.62 663.99 L893.43 662.82 L894.24 661.65 L895.05 660.48 L895.86 659.31 L896.67 658.15 L897.48 656.98 L898.29 655.81 L899.10 654.64 L899.91 653.47 L900.72 652.30 L901.53 651.14 L902.34 649.97 L903.15 648.80 L903.96 647.63 L904.77 646.47 L905.58 645.30 L906.39 644.14 L907.20 642.97 L908.01 641.80 L908.82 640.64 L909.63 639.47 L910.44 638.31 L911.25 637.14 L912.06 635.98 L912.87 634.82 L913.68 633.65 L914.49 632.49 L915.30 631.33 L916.11 630.16 L916.92 629.00 L917.73 627.84 L918.54 626.68 L919.35 625.52 L920.16 624.36 L920.97 623.20 L921.78 622.04 L922.59 620.88 L923.40 619.72 L924.21 618.56 L925.02 617.41 L925.83 616.25 L926.64 615.09 L927.45 613.94 L928.26 612.78 L929.07 611.63 L929.88 610.47 L930.69 609.32 L931.50 608.16 L932.31 607.01 L933.12 605.86 L933.93 604.71 L934.74 603.56 L935.55 602.41 L936.36 601.26 L937.17 600.11 L937.98 598.96 L938.79 597.81 L939.60 596.66 L940.41 595.52 L941.22 594.37 L942.03 593.23 L942.84 592.08 L943.65 590.94 L944.46 589.79 L945.27 588.65 L946.08 587.51 L946.89 586.37 L947.70 585.23 L948.51 584.09 L949.32 582.96 L950.13 581.82 L950.94 580.68 L951.75 579.55 L952.56 578.41 L953.37 577.28 L954.18 576.15 L954.99 575.02 L955.80 573.88 L956.61 572.76 L957.42 571.63 L958.23 570.50 L959.04 569.37 L959.85 568.25 L960.66 567.12 L961.47 566.00 L962.28 564.88 L963.09 563.76 L963.90 562.64 L964.71 561.52 L965.52 560.40 L966.33 559.29 L967.14 558.17 L967.95 557.06 L968.76 555.95 L969.57 554.84 L970.38 553.73 L971.19 552.62 L972.00 551.51 L972.81 550.41 L973.62 549.30 L974.43 548.20 L975.24 547.10 L976.05 546.00 L976.86 544.90 L977.67 543.81 L978.48 542.71 L979.29 541.62 L980.10 540.53 L980.91 539.44 L981.72 538.35 L982.53 537.27 L983.34 536.18 L984.15 535.10 L984.96 534.02 L985.77 532.94 L986.58 531.86 L987.39 530.79 L988.20 529.71 L989.01 528.64 L989.82 527.57 L990.63 526.51 L991.44 525.44 L992.25 524.38 L993.06 523.32 L993.87 522.26 L994.68 521.20 L995.49 520.15 L996.30 519.09 L997.11 518.05 L997.92 517.00 L998.73 515.95 L999.54 514.91 L1000.35 513.87 L1001.16 512.83 L1001.97 511.80 L1002.78 510.76 L1003.59 509.73 L1004.40 508.71 L1005.21 507.68 L1006.02 506.66 L1006.83 505.64 L1007.64 504.62 L1008.45 503.61 L1009.26 502.60 L1010.07 501.59 L1010.88 500.58 L1011.69 499.58 L1012.50 498.58 L1013.31 497.58 L1014.12 496.59 L1014.93 495.60 L1015.74 494.61 L1016.55 493.63 L1017.36 492.65 L1018.17 491.67 L1018.98 490.70 L1019.79 489.73 L1020.60 488.76 L1021.41 487.80 L1022.22 486.84 L1023.03 485.88 L1023.84 484.93 L1024.65 483.98 L1025.46 483.03 L1026.27 482.09 L1027.08 481.15 L1027.89 480.21 L1028.70 479.28 L1029.51 478.36 L1030.32 477.43 L1031.13 476.51 L1031.94 475.60 L1032.75 474.69 L1033.56 473.78 L1034.37 472.88 L1035.18 471.98 L1035.99 471.08 L1036.80 470.19 L1037.61 469.30 L1038.42 468.42 L1039.23 467.54 L1040.04 466.67 L1040.85 465.80 L1041.66 464.94 L1042.47 464.08 L1043.28 463.22 L1044.09 462.37 L1044.90 461.53 L1045.71 460.69 L1046.52 459.85 L1047.33 459.02 L1048.14 458.19 L1048.95 457.37 L1049.76 456.55 L1050.57 455.74 L1051.38 454.93 L1052.19 454.13 L1053.00 453.33 L1053.81 452.54 L1054.62 451.75 L1055.43 450.97 L1056.24 450.19 L1057.05 449.42 L1057.86 448.65 L1058.67 447.89 L1059.48 447.13 L1060.29 446.38 L1061.10 445.63 L1061.91 444.89 L1062.72 444.16 L1063.53 443.43 L1064.34 442.70 L1065.15 441.98 L1065.96 441.27 L1066.77 440.56 L1067.58 439.86 L1068.39 439.16 L1069.20 438.47 L1070.01 437.78 L1070.82 437.10 L1071.63 436.43 L1072.44 435.76 L1073.25 435.09 L1074.06 434.44 L1074.87 433.78 L1075.68 433.14 L1076.49 432.49 L1077.30 431.86 L1078.11 431.23 L1078.92 430.60 L1079.73 429.98 L1080.54 429.37 L1081.35 428.76 L1082.16 428.16 L1082.97 427.57 L1083.78 426.98 L1084.59 426.39 L1085.40 425.81 L1086.21 425.24 L1087.02 424.67 L1087.83 424.11 L1088.64 423.55 L1089.45 423.00 L1090.26 422.46 L1091.07 421.92 L1091.88 421.38 L1092.69 420.86 L1093.50 420.33 L1094.31 419.82 L1095.12 419.31 L1095.93 418.80 L1096.74 418.30 L1097.55 417.81 L1098.36 417.32 L1099.17 416.83 L1099.98 416.36 L1100.79 415.88 L1101.60 415.42 L1102.41 414.95 L1103.22 414.50 L1104.03 414.05 L1104.84 413.60 L1105.65 413.16 L1106.46 412.73 L1107.27 412.30 L1108.08 411.87 L1108.89 411.45 L1109.70 411.04 L1110.51 410.63 L1111.32 410.23 L1112.13 409.83 L1112.94 409.43 L1113.75 409.04 L1114.56 408.66 L1115.37 408.28 L1116.18 407.91 L1116.99 407.54 L1117.80 407.18 L1118.61 406.82 L1119.42 406.46 L1120.23 406.11 L1121.04 405.77 L1121.85 405.43 L1122.66 405.09 L1123.47 404.76 L1124.28 404.43 L1125.09 404.11 L1125.90 403.80 L1126.71 403.48 L1127.52 403.17 L1128.33 402.87 L1129.14 402.57 L1129.95 402.27 L1130.76 401.98 L1131.57 401.70 L1132.38 401.41 L1133.19 401.13 L1134.00 400.86 L1134.81 400.59 L1135.62 400.32 L1136.43 400.06 L1137.24 399.80 L1138.05 399.54 L1138.86 399.29 L1139.67 399.05 L1140.48 398.80 L1141.29 398.56 L1142.10 398.32 L1142.91 398.09 L1143.72 397.86 L1144.53 397.64 L1145.34 397.41 L1146.15 397.20 L1146.96 396.98 L1147.77 396.77 L1148.58 396.56 L1149.39 396.35 L1150.20 396.15 L1151.01 395.95 L1151.82 395.76 L1152.63 395.56 L1153.44 395.37 L1154.25 395.19 L1155.06 395.00 L1155.87 394.82 L1156.68 394.65 L1157.49 394.47 L1158.30 394.30 L1159.11 394.13 L1159.92 393.96 L1160.73 393.80 L1161.54 393.64 L1162.35 393.48 L1163.16 393.32 L1163.97 393.17 L1164.78 393.02 L1165.59 392.87 L1166.40 392.73 L1167.21 392.58 L1168.02 392.44 L1168.83 392.30 L1169.64 392.17 L1170.45 392.03 L1171.26 391.90 L1172.07 391.77 L1172.88 391.65 L1173.69 391.52 L1174.50 391.40 L1175.31 391.28 L1176.12 391.16 L1176.93 391.04 L1177.74 390.93 L1178.55 390.82 L1179.36 390.70 L1180.17 390.60 L1180.98 390.49 L1181.79 390.38 L1182.60 390.28 L1183.41 390.18 L1184.22 390.08 L1185.03 389.98 L1185.84 389.88 L1186.65 389.79 L1187.46 389.70 L1188.27 389.61 L1189.08 389.52 L1189.89 389.43 L1190.70 389.34 L1191.51 389.26 L1192.32 389.17 L1193.13 389.09 L1193.94 389.01 L1194.75 388.93 L1195.56 388.85 L1196.37 388.78 L1197.18 388.70 L1197.99 388.63 L1198.80 388.56 L1199.61 388.48 L1200.42 388.42 L1201.23 388.35 L1202.04 388.28 L1202.85 388.21 L1203.66 388.15 L1204.47 388.08 L1205.28 388.02 L1206.09 387.96 L1206.90 387.90 L1207.71 387.84 L1208.52 387.78 L1209.33 387.73 L1210.14 387.67 L1210.95 387.61 L1211.76 387.56 L1212.57 387.51 L1213.38 387.45 L1214.19 387.40 L1215.00 387.35 L1215.81 387.30 L1216.62 387.26 L1217.43 387.21 L1218.24 387.16 L1219.05 387.11 L1219.86 387.07 L1220.67 387.03 L1221.48 386.98 L1222.29 386.94 L1223.10 386.90 L1223.91 386.86 L1224.72 386.82 L1225.53 386.78 L1226.34 386.74 L1227.15 386.70 L1227.96 386.66 L1228.77 386.63 L1229.58 386.59 L1230.39 386.55 L1231.20 386.52 L1232.01 386.49 L1232.82 386.45 L1233.63 386.42 L1234.44 386.39 L1235.25 386.36 L1236.06 386.32 L1236.87 386.29 L1237.68 386.26 L1238.49 386.23 L1239.30 386.21 L1240.11 386.18 L1240.92 386.15 L1241.73 386.12 L1242.54 386.10 L1243.35 386.07 L1244.16 386.04 L1244.97 386.02 L1245.78 385.99 L1246.59 385.97 L1247.40 385.95 L1248.21 385.92 L1249.02 385.90 L1249.83 385.88 L1250.64 385.85 L1251.45 385.83 L1252.26 385.81 L1253.07 385.79 L1253.88 385.77 L1254.69 385.75 L1255.50 385.73 L1256.31 385.71 L1257.12 385.69 L1257.93 385.67 L1258.74 385.65 L1259.55 385.64 L1260.36 385.62 L1261.17 385.60 L1261.98 385.58 L1262.79 385.57 L1263.60 385.55 L1264.41 385.54 L1265.22 385.52 L1266.03 385.50 L1266.84 385.49 L1267.65 385.47 L1268.46 385.46 L1269.27 385.44 L1270.08 385.43 L1270.89 385.42 L1271.70 385.40 L1272.51 385.39 L1273.32 385.38 L1274.13 385.36 L1274.94 385.35 L1275.75 385.34 L1276.56 385.33 L1277.37 385.32 L1278.18 385.30 L1278.99 385.29 L1279.80 385.28 L1280.61 385.27 L1281.42 385.26 L1282.23 385.25 L1283.04 385.24 L1283.85 385.23 L1284.66 385.22 L1285.47 385.21 L1286.28 385.20 L1287.09 385.19 L1287.90 385.18 L1288.71 385.17 L1289.52 385.16 L1290.33 385.15 L1291.14 385.14 L1291.95 385.14 L1292.76 385.13 L1293.57 385.12 L1294.38 385.11 L1295.19 385.10 L1296.00 385.10 L1296.81 385.09 L1297.62 385.08 L1298.43 385.07 L1299.24 385.07 L1300.05 385.06 L1300.86 385.05 L1301.67 385.05 L1302.48 385.04 L1303.29 385.03 L1304.10 385.03 L1304.91 385.02 L1305.72 385.02 L1306.53 385.01 L1307.34 385.00 L1308.15 385.00 L1308.96 384.99 L1309.77 384.99 L1310.58 384.98 L1311.39 384.98 L1312.20 384.97 L1313.01 384.97 L1313.82 384.96 L1314.63 384.96 L1315.44 384.95 L1316.25 384.95 L1317.06 384.94 L1317.87 384.94 L1318.68 384.93 L1319.49 384.93 L1320.30 384.92 L1321.11 384.92 L1321.92 384.91 L1322.73 384.91 L1323.54 384.91 L1324.35 384.90 L1325.16 384.90 L1325.97 384.90 L1326.78 384.89 L1327.59 384.89 L1328.40 384.88 L1329.21 384.88 L1330.02 384.88 L1330.83 384.87 L1331.64 384.87 L1332.45 384.87 L1333.26 384.86 L1334.07 384.86 L1334.88 384.86 L1335.69 384.86 L1336.50 384.85 L1337.31 384.85 L1338.12 384.85 L1338.93 384.84 L1339.74 384.84 L1340.55 384.84 L1341.36 384.84 L1342.17 384.83 L1342.98 384.83 L1343.79 384.83 L1344.60 384.83 L1345.41 384.82 L1346.22 384.82 L1347.03 384.82 L1347.84 384.82 L1348.65 384.81 L1349.46 384.81 L1350.27 384.81 L1351.08 384.81 L1351.89 384.81 L1352.70 384.80 L1353.51 384.80 L1354.32 384.80 L1355.13 384.80 L1355.94 384.80 L1356.75 384.79 L1357.56 384.79 L1358.37 384.79 L1359.18 384.79 L1359.99 384.79 L1360.80 384.79 L1361.61 384.78 L1362.42 384.78 L1363.23 384.78 L1364.04 384.78 L1364.85 384.78 L1365.66 384.78 L1366.47 384.77 L1367.28 384.77 L1368.09 384.77 L1368.90 384.77 L1369.71 384.77 L1370.52 384.77 L1371.33 384.77 L1372.14 384.77 L1372.95 384.76 L1373.76 384.76 L1374.57 384.76 L1375.38 384.76 L1376.19 384.76 L1377.00 384.76 L1377.81 384.76 L1378.62 384.76 L1379.43 384.76 L1380.24 384.75 L1381.05 384.75 L1381.86 384.75 L1382.67 384.75 L1383.48 384.75 L1384.29 384.75 L1385.10 384.75 L1385.91 384.75 L1386.72 384.75 L1387.53 384.75 L1388.34 384.74 L1389.15 384.74 L1389.96 384.74 L1390.77 384.74 L1391.58 384.74 L1392.39 384.74 L1393.20 384.74 L1394.01 384.74 L1394.82 384.74 L1395.63 384.74 L1396.44 384.74 L1397.25 384.74 L1398.06 384.74 L1398.87 384.73 L1399.68 384.73 L1400.49 384.73 L1401.30 384.73 L1402.11 384.73 L1402.92 384.73 L1403.73 384.73 L1404.54 384.73 L1405.35 384.73 L1406.16 384.73 L1406.97 384.73 L1407.78 384.73 L1408.59 384.73 L1409.40 384.73 L1410.21 384.73 L1411.02 384.73 L1411.83 384.73 L1412.64 384.73 L1413.45 384.72 L1414.26 384.72 L1415.07 384.72 L1415.88 384.72 L1416.69 384.72 L1417.50 384.72 L1418.31 384.72 L1419.12 384.72 L1419.93 384.72 L1420.74 384.72 L1421.55 384.72 L1422.36 384.72 L1423.17 384.72 L1423.98 384.72 L1424.79 384.72 L1425.60 384.72 L1426.41 384.72 L1427.22 384.72 L1428.03 384.72 L1428.84 384.72 L1429.65 384.72 L1430.46 384.72 L1431.27 384.72 L1432.08 384.72 L1432.89 384.72 L1433.70 384.72 L1434.51 384.71 L1435.32 384.71 L1436.13 384.71 L1436.94 384.71 L1437.75 384.71 L1438.56 384.71 L1439.37 384.71 L1440.18 384.71 L1440.99 384.71 L1441.80 384.71 L1442.61 384.71 L1443.42 384.71 L1444.23 384.71 L1445.04 384.71 L1445.85 384.71 L1446.66 384.71 L1447.47 384.71 L1448.28 384.71 L1449.09 384.71 L1449.90 384.71 L1450.71 384.71 L1451.52 384.71 L1452.33 384.71 L1453.14 384.71 L1453.95 384.71" stroke="#ed1c24" stroke-opacity="0.25" stroke-dasharray="15 14.9" stroke-dashoffset="0"/>
</g>
<rect x="482.0" y="100.0" width="972.0" height="808.0" fill="none" stroke="#000" stroke-width="2.0"/>
<rect x="512.0" y="125.0" width="787.0" height="189.0" fill="#fff" stroke="#000" stroke-width="2.0"/>
<path d="M528.7 176.5H615.3" stroke="#3853a5" stroke-width="5.0"/>
<path d="M529.0 260.5H615.3" stroke="#ed1c24" stroke-width="5.0" stroke-dasharray="15.4 14.4"/>
<path d="M1165.0 196.6L1166.3 191.9L1180.0 191.9C1174.0 188.0 1169.9 180.0 1169.9 170.8C1169.9 156.0 1181.0 146.0 1195.45 146.0C1210.0 146.0 1221.0 156.0 1221.0 170.8C1221.0 180.0 1217.0 188.0 1210.9 191.9L1224.6 191.9L1225.9 196.6L1200.4 196.6L1200.1 193.6C1206.0 190.0 1214.1 182.0 1214.1 170.8C1214.1 157.0 1206.0 148.5 1195.45 148.5C1185.0 148.5 1176.8 157.0 1176.8 170.8C1176.8 182.0 1184.0 190.0 1190.8 193.6L1190.5 196.6Z" fill="#231f20"/>
<path d="M1165.0 196.6L1166.3 191.9L1180.0 191.9C1174.0 188.0 1169.9 180.0 1169.9 170.8C1169.9 156.0 1181.0 146.0 1195.45 146.0C1210.0 146.0 1221.0 156.0 1221.0 170.8C1221.0 180.0 1217.0 188.0 1210.9 191.9L1224.6 191.9L1225.9 196.6L1200.4 196.6L1200.1 193.6C1206.0 190.0 1214.1 182.0 1214.1 170.8C1214.1 157.0 1206.0 148.5 1195.45 148.5C1185.0 148.5 1176.8 157.0 1176.8 170.8C1176.8 182.0 1184.0 190.0 1190.8 193.6L1190.5 196.6Z" fill="#231f20" transform="translate(45.3,85.9)"/>
<path d="M727.55 169.45H776.35M727.55 185.45H776.35M999.45 169.45H1048.25M999.45 185.45H1048.25M727.55 255.25H776.35M727.55 271.25H776.35M1002.65 255.25H1051.35M1002.65 271.25H1051.35" stroke="#231f20" stroke-width="2.9" stroke-linecap="round" fill="none"/>
<defs><path id="g0" d="M33.00 26.50L32.97 29.23L32.88 31.36L32.74 33.29L32.53 35.09L32.27 36.79L31.95 38.40L31.57 39.93L31.14 41.37L30.65 42.74L30.11 44.02L29.51 45.23L28.86 46.35L28.16 47.39L27.41 48.35L26.61 49.22L25.76 50.01L24.86 50.70L23.91 51.31L22.91 51.82L21.85 52.25L20.73 52.57L19.52 52.81L18.20 52.95L16.50 53.00L14.80 52.95L13.48 52.81L12.27 52.57L11.15 52.25L10.09 51.82L9.09 51.31L8.14 50.70L7.24 50.01L6.39 49.22L5.59 48.35L4.84 47.39L4.14 46.35L3.49 45.23L2.89 44.02L2.35 42.74L1.86 41.37L1.43 39.93L1.05 38.40L0.73 36.79L0.47 35.09L0.26 33.29L0.12 31.36L0.03 29.23L0.00 26.50L0.03 23.77L0.12 21.64L0.26 19.71L0.47 17.91L0.73 16.21L1.05 14.60L1.43 13.07L1.86 11.63L2.35 10.26L2.89 8.98L3.49 7.77L4.14 6.65L4.84 5.61L5.59 4.65L6.39 3.78L7.24 2.99L8.14 2.30L9.09 1.69L10.09 1.18L11.15 0.75L12.27 0.43L13.48 0.19L14.80 0.05L16.50 0.00L18.20 0.05L19.52 0.19L20.73 0.43L21.85 0.75L22.91 1.18L23.91 1.69L24.86 2.30L25.76 2.99L26.61 3.78L27.41 4.65L28.16 5.61L28.86 6.65L29.51 7.77L30.11 8.98L30.65 10.26L31.14 11.63L31.57 13.07L31.95 14.60L32.27 16.21L32.53 17.91L32.74 19.71L32.88 21.64L32.97 23.77ZM27.40 26.50L27.38 29.64L27.33 31.74L27.25 33.56L27.12 35.21L26.97 36.72L26.78 38.13L26.56 39.45L26.30 40.68L26.01 41.83L25.69 42.91L25.33 43.91L24.94 44.83L24.52 45.69L24.06 46.47L23.57 47.17L23.04 47.80L22.48 48.36L21.88 48.85L21.23 49.26L20.54 49.60L19.78 49.86L18.95 50.05L17.99 50.16L16.55 50.20L15.11 50.16L14.15 50.05L13.32 49.86L12.56 49.60L11.87 49.26L11.22 48.85L10.62 48.36L10.06 47.80L9.53 47.17L9.04 46.47L8.58 45.69L8.16 44.83L7.77 43.91L7.41 42.91L7.09 41.83L6.80 40.68L6.54 39.45L6.32 38.13L6.13 36.72L5.98 35.21L5.85 33.56L5.77 31.74L5.72 29.64L5.70 26.50L5.72 23.36L5.77 21.26L5.85 19.44L5.98 17.79L6.13 16.28L6.32 14.87L6.54 13.55L6.80 12.32L7.09 11.17L7.41 10.09L7.77 9.09L8.16 8.17L8.58 7.31L9.04 6.53L9.53 5.83L10.06 5.20L10.62 4.64L11.22 4.15L11.87 3.74L12.56 3.40L13.32 3.14L14.15 2.95L15.11 2.84L16.55 2.80L17.99 2.84L18.95 2.95L19.78 3.14L20.54 3.40L21.23 3.74L21.88 4.15L22.48 4.64L23.04 5.20L23.57 5.83L24.06 6.53L24.52 7.31L24.94 8.17L25.33 9.09L25.69 10.09L26.01 11.17L26.30 12.32L26.56 13.55L26.78 14.87L26.97 16.28L27.12 17.79L27.25 19.44L27.33 21.26L27.38 23.36Z"/><path id="g1" d="M5.55 0.05L2.15 1.20L-3.45 3.10L-12.10 7.10L-11.60 9.20L-10.85 9.90L-5.00 7.70L0.00 5.50L0.00 47.80L-1.20 49.20L-4.50 50.05L-9.15 50.05L-9.15 51.80L14.85 51.80L14.85 50.05L9.50 50.05L6.75 49.20L5.55 47.80Z"/></defs>
<g fill="#231f20" fill-rule="evenodd"><use href="#g1" x="186.3" y="73.9"/><use href="#g0" x="221.1" y="73.9"/><use href="#g0" x="258.6" y="73.9"/><use href="#g0" x="296.1" y="73.9"/><use href="#g0" x="346.1" y="73.9"/><use href="#g0" x="383.1" y="73.9"/><use href="#g0" x="421.1" y="73.9"/><use href="#g1" x="235.15" y="215.9"/><use href="#g0" x="258.6" y="215.9"/><use href="#g0" x="296.1" y="215.9"/><use href="#g0" x="346.1" y="215.9"/><use href="#g0" x="383.1" y="215.9"/><use href="#g0" x="421.1" y="215.9"/><use href="#g1" x="272.8" y="357.9"/><use href="#g0" x="296.1" y="357.9"/><use href="#g0" x="346.1" y="357.9"/><use href="#g0" x="383.1" y="357.9"/><use href="#g0" x="421.1" y="357.9"/><use href="#g1" x="310.3" y="499.9"/><use href="#g0" x="346.1" y="499.9"/><use href="#g0" x="383.1" y="499.9"/><use href="#g0" x="421.1" y="499.9"/><use href="#g1" x="359.8" y="642.9"/><use href="#g0" x="383.1" y="642.9"/><use href="#g0" x="421.1" y="642.9"/><use href="#g1" x="397.05" y="784.9"/><use href="#g0" x="421.1" y="784.9"/><use href="#g0" x="1119.0" y="231.0"/><use href="#g0" x="477.9" y="933.8"/><use href="#g0" x="534.9" y="933.8"/><use href="#g0" x="572.1" y="933.8"/><use href="#g0" x="608.9" y="933.8"/><use href="#g0" x="709.8" y="933.8"/><use href="#g0" x="765.8" y="933.8"/><use href="#g0" x="1146.0" y="933.8"/><use href="#g0" x="1182.9" y="933.8"/><use href="#g0" x="1292.9" y="933.8"/><use href="#g0" x="1349.0" y="933.8"/><use href="#g0" x="1387.1" y="933.8"/><use href="#g0" x="1423.75" y="933.8"/><use href="#g1" x="661.0" y="933.8"/><use href="#g1" x="818.1" y="933.8"/><use href="#g1" x="965.1" y="933.8"/><use href="#g1" x="1122.1" y="933.8"/><use href="#g1" x="1269.2" y="933.8"/><path d="M1337.00 979.15L1339.15 978.30L1342.30 977.20L1344.80 977.00L1345.00 979.70L1343.05 982.70L1339.90 988.40L1335.60 994.00L1331.70 997.80L1330.10 996.50L1331.35 994.00L1334.20 988.40L1336.10 982.70L1336.70 979.90Z" transform="translate(-139.63,-542.70) scale(0.765)"/><path d="M1337.00 979.15L1339.15 978.30L1342.30 977.20L1344.80 977.00L1345.00 979.70L1343.05 982.70L1339.90 988.40L1335.60 994.00L1331.70 997.80L1330.10 996.50L1331.35 994.00L1334.20 988.40L1336.10 982.70L1336.70 979.90Z" transform="translate(-139.63,-456.40) scale(0.765)"/><path d="M519.00 981.90a4.45 4.0 0 1 0 8.9 0a4.45 4.0 0 1 0 -8.9 0ZM750.95 981.80a4.45 4.0 0 1 0 8.9 0a4.45 4.0 0 1 0 -8.9 0ZM1337.00 979.15L1339.15 978.30L1342.30 977.20L1344.80 977.00L1345.00 979.70L1343.05 982.70L1339.90 988.40L1335.60 994.00L1331.70 997.80L1330.10 996.50L1331.35 994.00L1334.20 988.40L1336.10 982.70L1336.70 979.90Z"/></g>
<path d="M969.90 1048.00L969.30 1051.70L968.00 1055.50L966.80 1064.60L965.10 1072.10L963.60 1077.00L964.90 1079.00L967.20 1078.30L969.30 1076.40L971.00 1078.30L968.30 1081.20L964.80 1083.50L961.50 1084.70L959.60 1084.50L958.10 1082.80L958.30 1077.50L958.60 1071.80L955.30 1075.20L952.00 1078.60L949.20 1081.60L946.80 1083.80L944.20 1084.70L942.20 1083.60L941.20 1081.00L941.20 1074.20L942.20 1069.60L943.50 1064.60L945.60 1058.80L948.50 1054.20L951.20 1051.20L953.80 1049.60L957.20 1048.00ZM954.00 1051.80L961.80 1051.70L964.30 1052.70L963.00 1056.30L961.00 1063.80L959.70 1069.60L955.10 1074.00L951.20 1077.60L948.40 1080.00L946.20 1079.80L946.00 1074.00L946.40 1068.00L947.70 1061.70L950.10 1055.50L952.00 1053.20Z" fill="#231f20" fill-rule="evenodd"/>
<path d="M969.90 1048.00L969.30 1051.70L968.00 1055.50L966.80 1064.60L965.10 1072.10L963.60 1077.00L964.90 1079.00L967.20 1078.30L969.30 1076.40L971.00 1078.30L968.30 1081.20L964.80 1083.50L961.50 1084.70L959.60 1084.50L958.10 1082.80L958.30 1077.50L958.60 1071.80L955.30 1075.20L952.00 1078.60L949.20 1081.60L946.80 1083.80L944.20 1084.70L942.20 1083.60L941.20 1081.00L941.20 1074.20L942.20 1069.60L943.50 1064.60L945.60 1058.80L948.50 1054.20L951.20 1051.20L953.80 1049.60L957.20 1048.00ZM954.00 1051.80L961.80 1051.70L964.30 1052.70L963.00 1056.30L961.00 1063.80L959.70 1069.60L955.10 1074.00L951.20 1077.60L948.40 1080.00L946.20 1079.80L946.00 1074.00L946.40 1068.00L947.70 1061.70L950.10 1055.50L952.00 1053.20Z" fill="#231f20" fill-rule="evenodd" transform="matrix(0,-1,1,0,-992.1,1409.9)"/>
<path d="M87.78 611.78L86.66 613.03L85.44 614.18L84.12 615.24L82.71 616.18L81.21 617.02L79.64 617.74L78.00 618.34L76.30 618.82L74.54 619.17L72.74 619.41L70.91 619.51L69.05 619.49L67.17 619.34L65.28 619.06L63.40 618.66L61.53 618.14L59.67 617.49L57.84 616.73L56.05 615.85L54.31 614.87L52.62 613.78L51.00 612.59L49.44 611.31L47.96 609.94L46.57 608.49L45.27 606.96L44.07 605.38L42.97 603.73L41.99 602.03L41.12 600.29L40.36 598.52L39.73 596.72L39.23 594.90L38.85 593.08L38.60 591.26L38.48 589.45L38.50 587.66L38.65 585.90L38.92 584.17L39.33 582.49L39.86 580.86L40.52 579.30L41.30 577.80L42.20 576.38L43.22 575.04L44.34 573.79L45.56 572.64L46.88 571.58L48.29 570.64L49.79 569.80L51.36 569.08L53.00 568.48L54.70 568.00L56.46 567.65L58.26 567.41L60.09 567.31L61.95 567.33L63.83 567.48L65.72 567.76L67.60 568.16L69.47 568.68L71.33 569.33L73.16 570.09L74.95 570.97L76.69 571.95L78.38 573.04L80.00 574.23L81.56 575.51L83.04 576.88L84.43 578.33L85.73 579.86L86.93 581.44L88.03 583.09L89.01 584.79L89.88 586.53L90.64 588.30L91.27 590.10L91.77 591.92L92.15 593.74L92.40 595.56L92.52 597.37L92.50 599.16L92.35 600.92L92.08 602.65L91.67 604.33L91.14 605.96L90.48 607.52L89.70 609.02L88.80 610.44ZM89.16 601.15L88.71 602.38L88.15 603.58L87.48 604.73L86.70 605.82L85.82 606.86L84.84 607.83L83.76 608.74L82.59 609.57L81.34 610.32L80.02 610.99L78.62 611.58L77.15 612.09L75.63 612.50L74.06 612.82L72.45 613.05L70.80 613.19L69.13 613.23L67.44 613.18L65.73 613.03L64.03 612.79L62.33 612.46L60.65 612.03L58.99 611.52L57.37 610.92L55.78 610.24L54.23 609.47L52.75 608.63L51.32 607.72L49.96 606.74L48.68 605.70L47.48 604.60L46.37 603.44L45.35 602.24L44.42 601.00L43.60 599.72L42.89 598.42L42.28 597.09L41.79 595.74L41.41 594.39L41.15 593.03L41.01 591.68L40.98 590.34L41.08 589.01L41.29 587.71L41.62 586.43L42.07 585.20L42.63 584.00L43.30 582.85L44.08 581.76L44.96 580.72L45.94 579.75L47.02 578.84L48.19 578.01L49.44 577.26L50.76 576.59L52.16 576.00L53.63 575.49L55.15 575.08L56.72 574.76L58.33 574.53L59.98 574.39L61.65 574.35L63.34 574.40L65.05 574.55L66.75 574.79L68.45 575.12L70.13 575.55L71.79 576.06L73.41 576.66L75.00 577.34L76.55 578.11L78.03 578.95L79.46 579.86L80.82 580.84L82.10 581.88L83.30 582.98L84.41 584.14L85.43 585.34L86.36 586.58L87.18 587.86L87.89 589.16L88.50 590.49L88.99 591.84L89.37 593.19L89.63 594.55L89.77 595.90L89.80 597.24L89.70 598.57L89.49 599.87Z" fill="#231f20" fill-rule="evenodd"/><path d="M96.10 571.50L101.40 572.30L105.90 575.70L107.00 581.00L105.90 585.40L102.00 593.25L96.90 601.10L95.80 604.40L96.10 608.30L99.20 611.70L104.80 612.20L104.20 613.60L98.10 613.60L94.20 610.00L92.50 605.50L94.20 598.80L98.10 591.00L100.80 584.30L102.00 578.20L100.30 574.80L96.90 572.60Z" fill="#231f20"/>
<defs><path id="gR" d="M637.00 145.00L662.20 145.00L667.50 146.20L670.20 148.60L672.60 152.50L672.80 156.00L671.60 160.80L668.80 164.60L664.90 167.20L659.50 169.00L656.50 169.60L676.80 195.10L677.00 196.80L667.50 196.80L649.50 169.60L646.90 169.60L643.00 193.00L645.00 194.60L648.90 195.20L648.90 196.80L630.00 196.80L630.00 195.20L634.50 194.60L636.80 192.50L643.90 147.60L641.00 146.60L637.00 146.50ZM650.20 147.80L662.00 147.80L665.20 149.80L666.40 153.50L666.00 157.50L663.50 162.20L659.00 165.60L654.00 167.40L647.90 168.30Z"/></defs>
<g fill="#231f20" fill-rule="evenodd"><use href="#gR"/><use href="#gR" x="178.0"/><use href="#gR" y="85.9"/><use href="#gR" x="178.0" y="85.9"/></g>
<path d="M33.10 407.40L36.00 404.50L43.00 399.00L49.00 395.80L55.00 393.30L60.50 391.30L66.40 390.00L78.40 390.00L84.50 391.40L91.00 393.60L97.00 396.30L103.00 399.60L108.00 403.50L112.00 407.40L111.40 408.10L107.00 404.80L100.50 400.60L94.00 397.80L88.50 396.10L83.20 395.10L70.00 394.80L62.80 395.40L55.00 397.00L50.50 398.50L46.00 400.20L40.00 403.80L34.00 408.10ZM33.10 478.30L36.00 481.20L43.00 486.70L49.00 489.90L55.00 492.40L60.50 494.40L66.40 495.70L78.40 495.70L84.50 494.30L91.00 492.10L97.00 489.40L103.00 486.10L108.00 482.20L112.00 478.30L111.40 477.60L107.00 480.90L100.50 485.10L94.00 487.90L88.50 489.60L83.20 490.60L70.00 490.90L62.80 490.30L55.00 488.70L50.50 487.20L46.00 485.50L40.00 481.90L34.00 477.60Z" fill="#231f20"/>
<text x="0" y="0" font-size="54.6" transform="translate(677.67,211.50) scale(1.1273,1.0502)">f</text>
<text x="0" y="0" font-size="54.6" transform="translate(857.12,211.60) scale(1.0970,1.0554)">f</text>
<text x="0" y="0" font-size="54.6" transform="translate(904.50,211.98) scale(1.1777,1.0476)">on</text>
<text x="0" y="0" font-size="78" transform="translate(1074.73,197.25) scale(0.9703,1.0062)">25</text>
<text x="0" y="0" font-size="54.6" transform="translate(677.67,297.90) scale(1.1273,1.0554)">f</text>
<text x="0" y="0" font-size="54.6" transform="translate(857.12,297.90) scale(1.0970,1.0554)">f</text>
<text x="0" y="0" font-size="54.6" transform="translate(904.69,298.27) scale(1.0893,1.0650)">off</text>
<text x="0" y="0" font-size="78" transform="translate(1078.34,282.85) scale(0.9879,0.9976)">8</text>
<text x="0" y="0" font-size="78" transform="translate(1167.35,282.80) scale(0.9653,0.9995)">k</text>
<text x="0" y="0" font-size="54.6" transform="translate(974.23,1099.80) scale(1.0909,1.0710)">f</text>
<text x="0" y="0" font-size="54.6" transform="translate(105.64,565.91) rotate(-90) scale(1.1804,1.1406)">eq</text>
<text x="0" y="0" font-size="54.6" transform="translate(107.00,435.34) rotate(-90) scale(1.0727,1.0710)">f</text>
</svg></body></html>
